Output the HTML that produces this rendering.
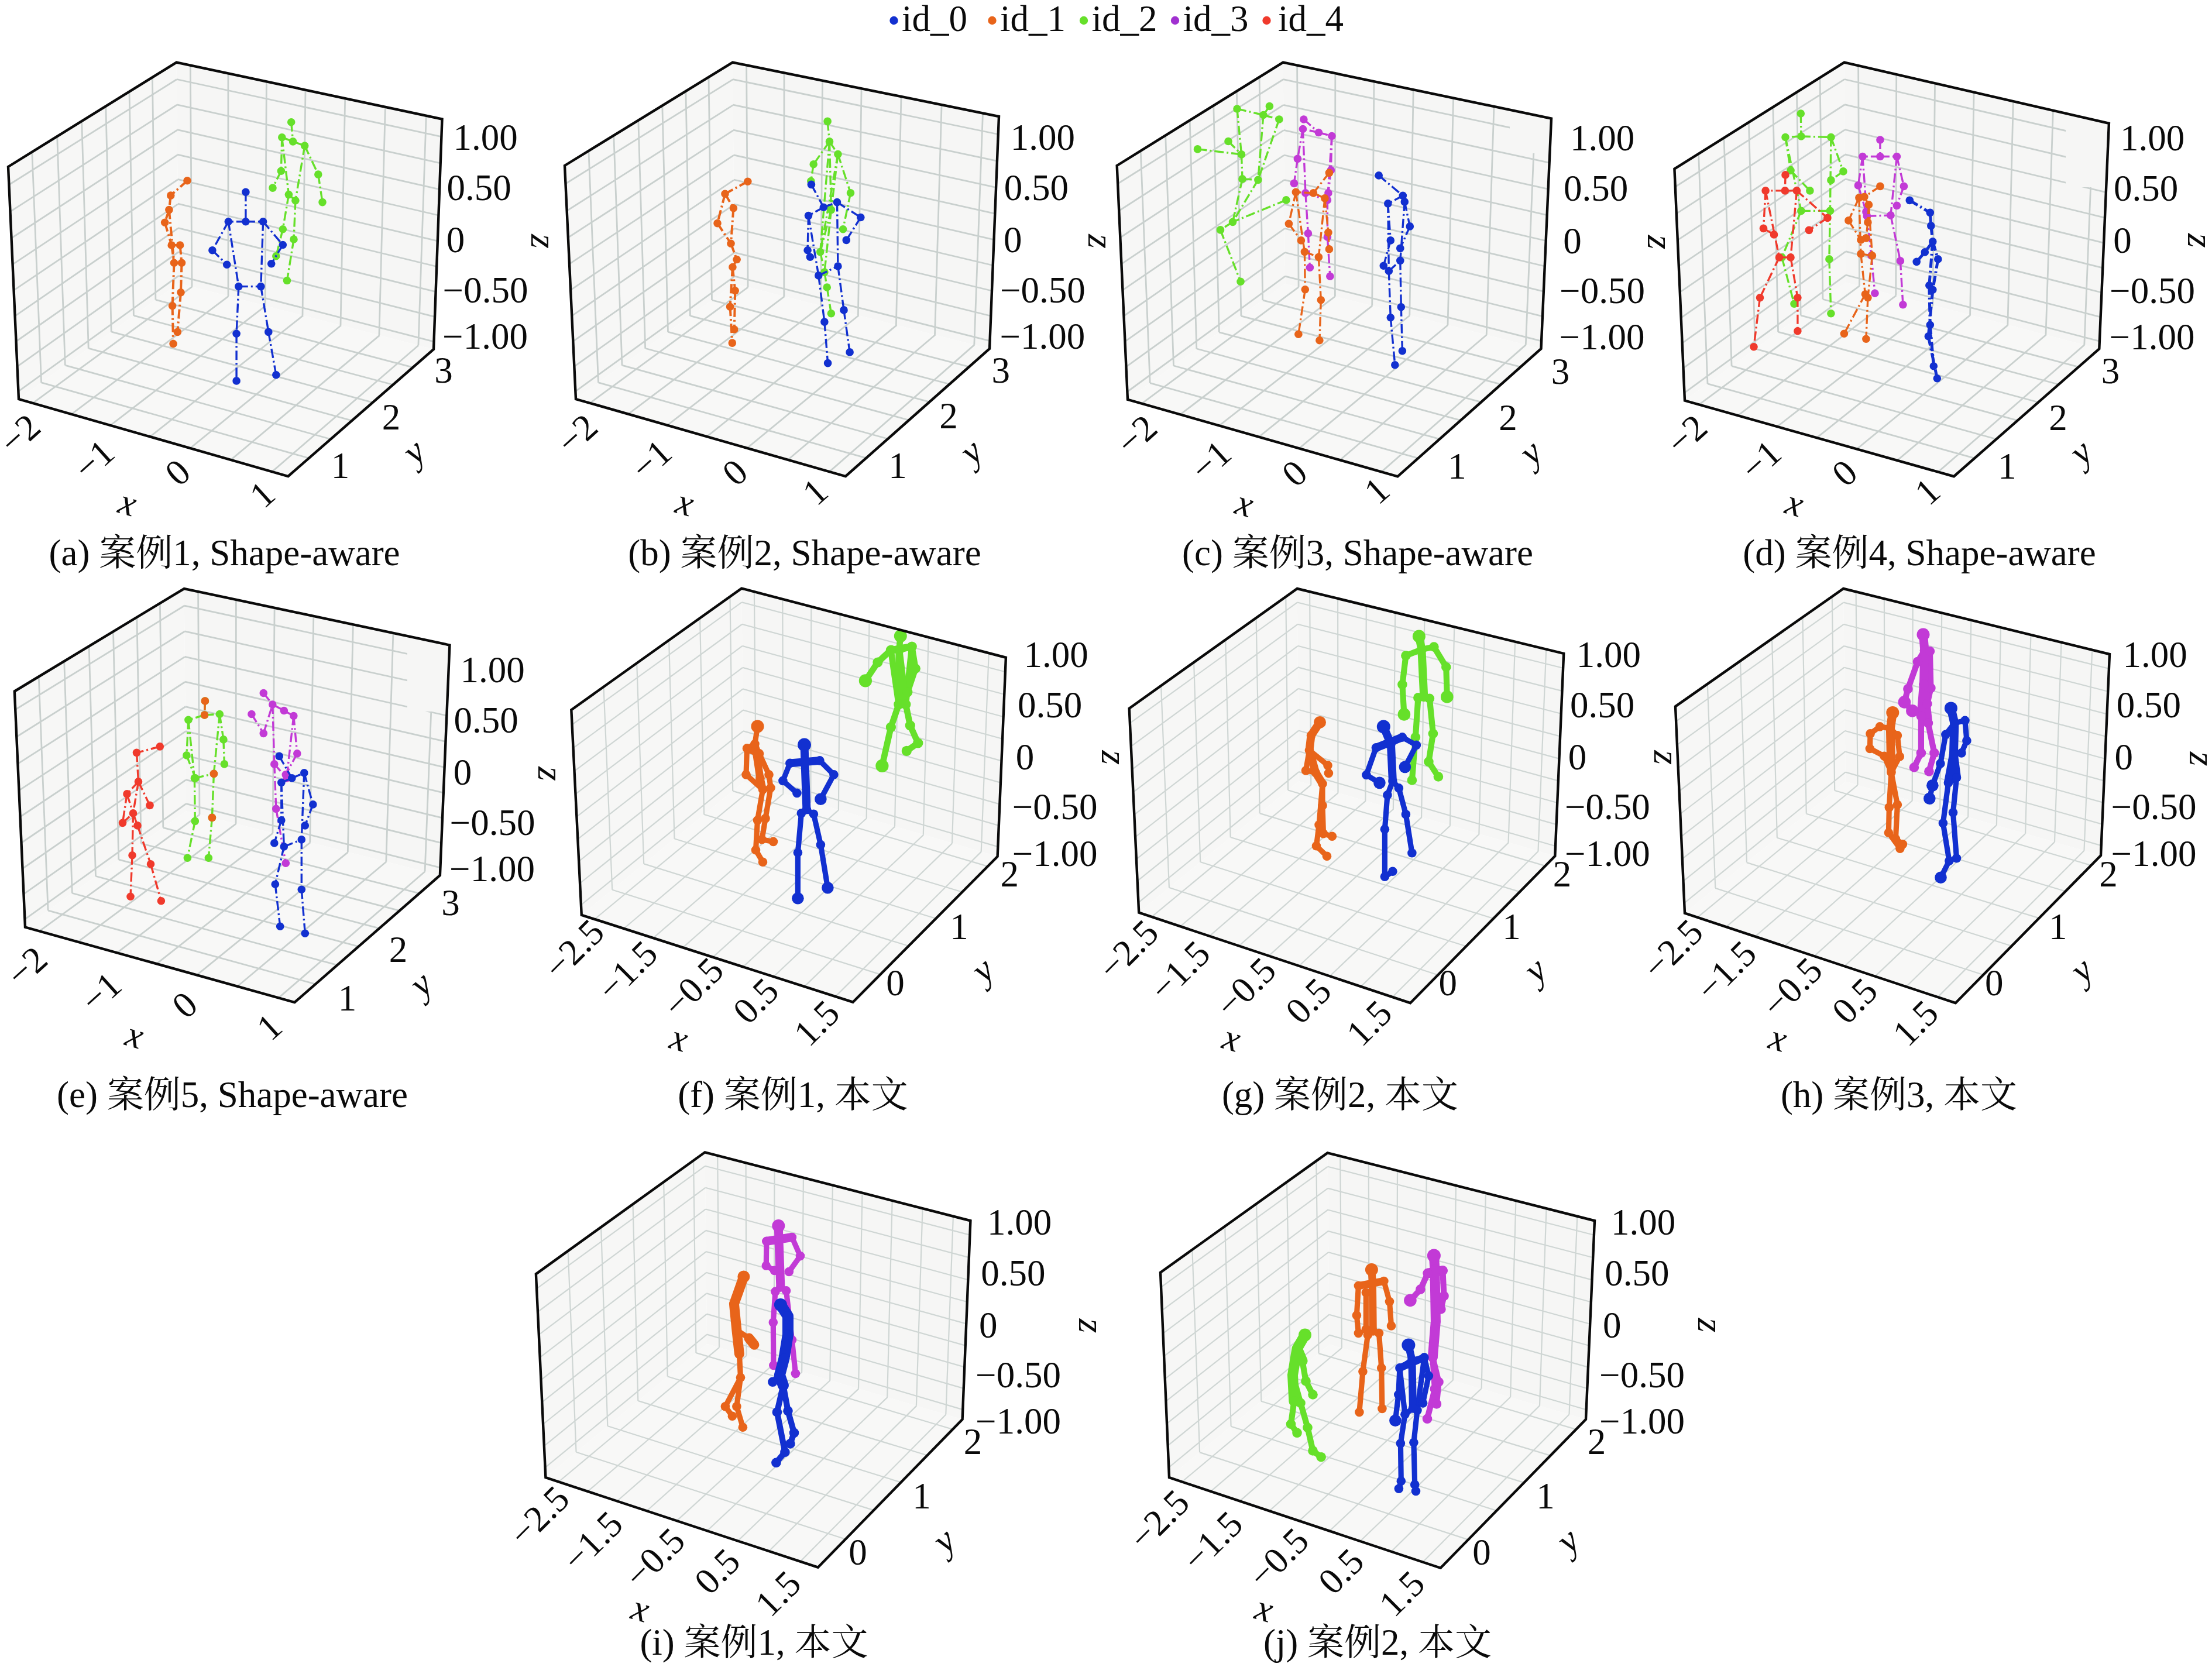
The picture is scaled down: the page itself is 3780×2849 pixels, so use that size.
<!DOCTYPE html>
<html lang="zh"><head><meta charset="utf-8"><title>figure</title>
<style>html,body{margin:0;padding:0;background:#fff}svg{display:block}text{font-family:'Liberation Serif','Noto Serif CJK SC',serif;font-size:63px;fill:#0a0a0a}</style></head>
<body>
<svg width="3780" height="2849" viewBox="0 0 3780 2849">
<rect width="3780" height="2849" fill="#fff"/>
<circle cx="1527.5" cy="35" r="7.2" fill="#1230d0"/>
<text x="1541" y="53">id_0</text>
<circle cx="1695.5" cy="35" r="7.2" fill="#e8641a"/>
<text x="1709" y="53">id_1</text>
<circle cx="1852" cy="35" r="7.2" fill="#66e02a"/>
<text x="1865.5" y="53">id_2</text>
<circle cx="2008" cy="35" r="7.2" fill="#a030d0"/>
<text x="2021.5" y="53">id_3</text>
<circle cx="2164.5" cy="35" r="7.2" fill="#f03a2c"/>
<text x="2184" y="53">id_4</text>
<g>
<polygon points="14,285 301.6,106.6 305.1,484.1 32,682" fill="#f7f7f6"/>
<polygon points="301.6,106.6 755.5,203.5 741,597 305.1,484.1" fill="#f6f6f5"/>
<polygon points="32,682 305.1,484.1 741,597 492.4,814" fill="#f8f8f7"/>
<path d="M70.6 654L54.8 259.7M70.8 653.9L527.9 783M111.3 624.5L97.7 233.1M111.7 624.3L565.1 750.5M151.2 595.7L139.7 207M151.6 595.3L601.5 718.8M190.2 567.4L180.8 181.5M190.6 567.1L637 687.8M228.4 539.7L221 156.6M228.8 539.4L671.7 657.5M265.9 512.5L260.4 132.2M266.1 512.4L705.6 627.9M328 490L325.3 111.7M56.2 688.9L328.1 490.1M390 506.1L389.9 125.4M122.1 707.8L390.6 506.2M453.1 522.4L455.4 139.4M188.8 726.9L453.9 522.6M517 539L522 153.7M256.4 746.3L518 539.2M582 555.8L589.7 168.1M325 766L582.9 556M647.9 572.9L658.4 182.8M394.5 785.9L648.6 573.1M714.9 590.2L728.3 197.7M465 806.1L715.1 590.3M31.4 668.8L305 471.5M305 471.4L741.5 583.8M29.5 626.3L304.6 431M304.6 430.6L743 541.4M27.5 583.5L304.2 390.1M304.2 389.6L744.6 498.6M25.6 540.1L303.9 348.8M303.9 348.1L746.2 455.5M23.6 496.2L303.5 307.1M303.5 306.3L747.8 411.9M21.6 451.9L303.1 264.9M303.1 264.2L749.4 368M19.5 407L302.7 222.3M302.7 221.6L751.1 323.6M17.5 361.6L302.3 179.2M302.3 178.8L752.7 278.8M15.4 315.7L301.9 135.7M301.9 135.5L754.4 233.7" stroke="#c9d0ce" stroke-width="2.8" fill="none"/>
<g stroke="#66e02a" fill="#66e02a"><path d="M497.7 208.8L500.6 241.9M500.6 241.9L481.8 234.7M500.6 241.9L520.7 249.1M481.8 234.7L480.4 292.3M480.4 292.3L466 321.1M520.7 249.1L543.8 298.1M543.8 298.1L551 345.6M481.8 234.7L493.4 332.6M520.7 249.1L504.9 342.7M493.4 332.6L504.9 342.7M493.4 332.6L483.3 391.7M483.3 391.7L471.8 437.8M504.9 342.7L502 409M502 409L490.5 479.5" stroke-width="3.4" stroke-dasharray="16 5 3 5" fill="none"/>
<circle cx="497.7" cy="208.8" r="6.8" stroke="none"/><circle cx="500.6" cy="241.9" r="6.8" stroke="none"/><circle cx="481.8" cy="234.7" r="6.8" stroke="none"/><circle cx="520.7" cy="249.1" r="6.8" stroke="none"/><circle cx="480.4" cy="292.3" r="6.8" stroke="none"/><circle cx="543.8" cy="298.1" r="6.8" stroke="none"/><circle cx="466" cy="321.1" r="6.8" stroke="none"/><circle cx="551" cy="345.6" r="6.8" stroke="none"/><circle cx="493.4" cy="332.6" r="6.8" stroke="none"/><circle cx="504.9" cy="342.7" r="6.8" stroke="none"/><circle cx="483.3" cy="391.7" r="6.8" stroke="none"/><circle cx="502" cy="409" r="6.8" stroke="none"/><circle cx="471.8" cy="437.8" r="6.8" stroke="none"/><circle cx="490.5" cy="479.5" r="6.8" stroke="none"/>
</g>
<g stroke="#e8641a" fill="#e8641a"><path d="M320 308.7L291.8 334.1M291.8 334.1L288.9 358.6M288.9 358.6L281.7 380.2M281.7 380.2L293.2 419M293.2 419L307.6 419M288.9 358.6L297.5 449.3M293.2 419L297.5 449.3M297.5 449.3L310.5 449.3M307.6 419L310.5 449.3M310.5 449.3L309 499.7M297.5 449.3L294.6 522.7M309 499.7L303.3 567.4M294.6 522.7L296.1 587.5" stroke-width="4" stroke-dasharray="16 5 3 5" fill="none"/>
<circle cx="320" cy="308.7" r="6.8" stroke="none"/><circle cx="291.8" cy="334.1" r="6.8" stroke="none"/><circle cx="288.9" cy="358.6" r="6.8" stroke="none"/><circle cx="281.7" cy="380.2" r="6.8" stroke="none"/><circle cx="293.2" cy="419" r="6.8" stroke="none"/><circle cx="307.6" cy="419" r="6.8" stroke="none"/><circle cx="297.5" cy="449.3" r="6.8" stroke="none"/><circle cx="310.5" cy="449.3" r="6.8" stroke="none"/><circle cx="309" cy="499.7" r="6.8" stroke="none"/><circle cx="294.6" cy="522.7" r="6.8" stroke="none"/><circle cx="303.3" cy="567.4" r="6.8" stroke="none"/><circle cx="296.1" cy="587.5" r="6.8" stroke="none"/>
</g>
<g stroke="#1230d0" fill="#1230d0"><path d="M419.9 328.3L419.9 378.7M419.9 378.7L390.3 378.7M419.9 378.7L449.6 378.7M390.3 378.7L362.9 427.7M362.9 427.7L387.7 452.2M449.6 378.7L483.3 418.5M483.3 418.5L463.7 450.7M390.3 378.7L407.8 489.6M449.6 378.7L445.8 489.6M407.8 489.6L445.8 489.6M407.8 489.6L404.1 570.2M404.1 570.2L404.1 650.9M445.8 489.6L458.8 567.4M458.8 567.4L471.8 640.8" stroke-width="3.4" stroke-dasharray="16 5 3 5" fill="none"/>
<circle cx="419.9" cy="328.3" r="6.8" stroke="none"/><circle cx="419.9" cy="378.7" r="6.8" stroke="none"/><circle cx="390.3" cy="378.7" r="6.8" stroke="none"/><circle cx="449.6" cy="378.7" r="6.8" stroke="none"/><circle cx="362.9" cy="427.7" r="6.8" stroke="none"/><circle cx="483.3" cy="418.5" r="6.8" stroke="none"/><circle cx="387.7" cy="452.2" r="6.8" stroke="none"/><circle cx="463.7" cy="450.7" r="6.8" stroke="none"/><circle cx="407.8" cy="489.6" r="6.8" stroke="none"/><circle cx="445.8" cy="489.6" r="6.8" stroke="none"/><circle cx="404.1" cy="570.2" r="6.8" stroke="none"/><circle cx="458.8" cy="567.4" r="6.8" stroke="none"/><circle cx="404.1" cy="650.9" r="6.8" stroke="none"/><circle cx="471.8" cy="640.8" r="6.8" stroke="none"/>
</g>
<polygon points="14,285 301.6,106.6 755.5,203.5 741,597 492.4,814 32,682" fill="none" stroke="#0a0a0a" stroke-width="4.4" stroke-linejoin="miter"/>
<text transform="translate(829.6 234.5) rotate(0)" y="21.1" text-anchor="middle">1.00</text>
<text transform="translate(818.5 320.5) rotate(0)" y="21.1" text-anchor="middle">0.50</text>
<text transform="translate(778.4 410) rotate(0)" y="21.1" text-anchor="middle">0</text>
<text transform="translate(829.5 495.6) rotate(0)" y="21.1" text-anchor="middle">−0.50</text>
<text transform="translate(829 574.8) rotate(0)" y="21.1" text-anchor="middle">−1.00</text>
<text transform="translate(758 633) rotate(0)" y="21.1" text-anchor="middle">3</text>
<text transform="translate(668.6 712.5) rotate(0)" y="21.1" text-anchor="middle">2</text>
<text transform="translate(581.6 795.6) rotate(0)" y="21.1" text-anchor="middle">1</text>
<text transform="translate(33.8 742) rotate(-42)" y="21.1" text-anchor="middle">−2</text>
<text transform="translate(160.5 786) rotate(-42)" y="21.1" text-anchor="middle">−1</text>
<text transform="translate(303.5 807.2) rotate(-42)" y="21.1" text-anchor="middle">0</text>
<text transform="translate(448 845) rotate(-42)" y="21.1" text-anchor="middle">1</text>
<text transform="translate(216.5 865.8) rotate(16)" y="13.9" text-anchor="middle" font-style="italic">x</text>
<text transform="translate(715.5 781.5) rotate(-41)" y="7.6" text-anchor="middle" font-style="italic">y</text>
<text transform="translate(921.8 412.5) rotate(90)" y="13.9" text-anchor="middle" font-style="italic">z</text>
<text x="383.6" y="966" text-anchor="middle">(a) 案例1, Shape-aware</text>
</g>
<g>
<polygon points="965,283 1252,106.6 1255.4,484.9 984,682" fill="#f7f7f6"/>
<polygon points="1252,106.6 1707,199 1691,596 1255.4,484.9" fill="#f6f6f5"/>
<polygon points="984,682 1255.4,484.9 1691,596 1445,814" fill="#f8f8f7"/>
<path d="M1022.5 654L1005.9 257.9M1022.8 653.9L1480.3 782.8M1063 624.6L1048.8 231.5M1063.5 624.3L1517.2 750M1102.7 595.8L1090.8 205.7M1103.2 595.5L1553.3 718M1141.5 567.7L1131.8 180.5M1141.9 567.3L1588.4 686.9M1179.4 540.1L1171.9 155.8M1179.8 539.8L1622.7 656.5M1216.5 513.1L1211 131.8M1216.8 513L1656.1 626.9M1278.1 490.7L1275.6 111.4M1008.1 688.9L1278.3 490.8M1339.8 506.4L1340 124.5M1073.7 707.7L1340.5 506.6M1402.6 522.5L1405.5 137.8M1140.3 726.8L1403.5 522.7M1466.4 538.7L1472.1 151.3M1208 746.1L1467.5 539M1531.4 555.3L1540 165.1M1276.7 765.8L1532.4 555.6M1597.5 572.2L1609.1 179.1M1346.5 785.8L1598.2 572.3M1664.8 589.3L1679.5 193.4M1417.4 806.1L1665 589.4M983.4 668.8L1255.3 472.3M1255.3 472.2L1691.5 582.7M981.3 626.3L1254.9 431.9M1254.9 431.5L1693.3 540M979.3 583.3L1254.6 391M1254.6 390.4L1695 497M977.2 539.8L1254.2 349.7M1254.2 348.9L1696.7 453.5M975.1 495.7L1253.8 307.9M1253.8 307L1698.5 409.6M973 451.1L1253.4 265.6M1253.4 264.8L1700.3 365.2M970.9 406L1253 222.9M1253 222.1L1702.1 320.4M968.7 360.3L1252.7 179.6M1252.7 179.1L1703.9 275.2M966.5 314L1252.3 135.9M1252.3 135.6L1705.8 229.5" stroke="#c9d0ce" stroke-width="2.8" fill="none"/>
<g stroke="#e8641a" fill="#e8641a"><path d="M1277.8 310.2L1239 331.2M1239 331.2L1253.4 355.7M1239 331.2L1226 381.6M1226 381.6L1249 416.2M1253.4 355.7L1249 416.2M1249 416.2L1259.1 443.5M1259.1 443.5L1251.9 456.5M1251.9 456.5L1256.2 496.8M1251.9 456.5L1247.6 524.2M1256.2 496.8L1254.8 563M1247.6 524.2L1251.3 586.1" stroke-width="4" stroke-dasharray="16 5 3 5" fill="none"/>
<circle cx="1277.8" cy="310.2" r="6.8" stroke="none"/><circle cx="1239" cy="331.2" r="6.8" stroke="none"/><circle cx="1253.4" cy="355.7" r="6.8" stroke="none"/><circle cx="1226" cy="381.6" r="6.8" stroke="none"/><circle cx="1249" cy="416.2" r="6.8" stroke="none"/><circle cx="1259.1" cy="443.5" r="6.8" stroke="none"/><circle cx="1251.9" cy="456.5" r="6.8" stroke="none"/><circle cx="1256.2" cy="496.8" r="6.8" stroke="none"/><circle cx="1247.6" cy="524.2" r="6.8" stroke="none"/><circle cx="1254.8" cy="563" r="6.8" stroke="none"/><circle cx="1251.3" cy="586.1" r="6.8" stroke="none"/>
</g>
<g stroke="#66e02a" fill="#66e02a"><path d="M1414.1 207.4L1417.5 241.9M1417.5 241.9L1390.2 280.8M1417.5 241.9L1431.9 263.5M1390.2 280.8L1385.8 309.6M1431.9 263.5L1453.5 329.8M1453.5 329.8L1440.6 391.7M1417.5 241.9L1420.4 358.6M1417.5 241.9L1401.7 430.6M1431.9 263.5L1401.7 430.6M1420.4 358.6L1401.7 430.6M1420.4 358.6L1408.9 465.1M1401.7 430.6L1408.9 465.1M1408.9 465.1L1413.2 491M1413.2 491L1420.4 535.7M1431.9 263.5L1420.4 358.6" stroke-width="3.4" stroke-dasharray="16 5 3 5" fill="none"/>
<circle cx="1414.1" cy="207.4" r="6.8" stroke="none"/><circle cx="1417.5" cy="241.9" r="6.8" stroke="none"/><circle cx="1390.2" cy="280.8" r="6.8" stroke="none"/><circle cx="1431.9" cy="263.5" r="6.8" stroke="none"/><circle cx="1385.8" cy="309.6" r="6.8" stroke="none"/><circle cx="1453.5" cy="329.8" r="6.8" stroke="none"/><circle cx="1440.6" cy="391.7" r="6.8" stroke="none"/><circle cx="1420.4" cy="358.6" r="6.8" stroke="none"/><circle cx="1401.7" cy="430.6" r="6.8" stroke="none"/><circle cx="1413.2" cy="491" r="6.8" stroke="none"/><circle cx="1420.4" cy="535.7" r="6.8" stroke="none"/><circle cx="1408.9" cy="465.1" r="6.8" stroke="none"/>
</g>
<g stroke="#1230d0" fill="#1230d0"><path d="M1386.4 315.4L1407.4 354.2M1407.4 354.2L1381.5 368.6M1407.4 354.2L1430.5 345.6M1381.5 368.6L1380.1 427.7M1380.1 427.7L1384.4 439.2M1430.5 345.6L1470.8 371.5M1470.8 371.5L1446.3 410.4M1381.5 368.6L1398.8 470.9M1430.5 345.6L1431.9 455M1398.8 470.9L1431.9 455M1398.8 470.9L1408.9 550.1M1408.9 550.1L1414.6 620.6M1431.9 455L1442 529.9M1442 529.9L1452.1 601.9" stroke-width="3.4" stroke-dasharray="16 5 3 5" fill="none"/>
<circle cx="1386.4" cy="315.4" r="6.8" stroke="none"/><circle cx="1407.4" cy="354.2" r="6.8" stroke="none"/><circle cx="1381.5" cy="368.6" r="6.8" stroke="none"/><circle cx="1430.5" cy="345.6" r="6.8" stroke="none"/><circle cx="1380.1" cy="427.7" r="6.8" stroke="none"/><circle cx="1470.8" cy="371.5" r="6.8" stroke="none"/><circle cx="1384.4" cy="439.2" r="6.8" stroke="none"/><circle cx="1446.3" cy="410.4" r="6.8" stroke="none"/><circle cx="1398.8" cy="470.9" r="6.8" stroke="none"/><circle cx="1431.9" cy="455" r="6.8" stroke="none"/><circle cx="1408.9" cy="550.1" r="6.8" stroke="none"/><circle cx="1442" cy="529.9" r="6.8" stroke="none"/><circle cx="1414.6" cy="620.6" r="6.8" stroke="none"/><circle cx="1452.1" cy="601.9" r="6.8" stroke="none"/>
</g>
<polygon points="965,283 1252,106.6 1707,199 1691,596 1445,814 984,682" fill="none" stroke="#0a0a0a" stroke-width="4.4" stroke-linejoin="miter"/>
<text transform="translate(1781.9 234.5) rotate(0)" y="21.1" text-anchor="middle">1.00</text>
<text transform="translate(1770.8 320.5) rotate(0)" y="21.1" text-anchor="middle">0.50</text>
<text transform="translate(1730.7 410) rotate(0)" y="21.1" text-anchor="middle">0</text>
<text transform="translate(1781.8 495.6) rotate(0)" y="21.1" text-anchor="middle">−0.50</text>
<text transform="translate(1781.3 574.8) rotate(0)" y="21.1" text-anchor="middle">−1.00</text>
<text transform="translate(1710.3 633) rotate(0)" y="21.1" text-anchor="middle">3</text>
<text transform="translate(1620.9 710.5) rotate(0)" y="21.1" text-anchor="middle">2</text>
<text transform="translate(1533.9 795.6) rotate(0)" y="21.1" text-anchor="middle">1</text>
<text transform="translate(986.1 742) rotate(-42)" y="21.1" text-anchor="middle">−2</text>
<text transform="translate(1112.8 786) rotate(-42)" y="21.1" text-anchor="middle">−1</text>
<text transform="translate(1255.8 807.2) rotate(-42)" y="21.1" text-anchor="middle">0</text>
<text transform="translate(1392.8 840.4) rotate(-42)" y="21.1" text-anchor="middle">1</text>
<text transform="translate(1168.8 865.8) rotate(16)" y="13.9" text-anchor="middle" font-style="italic">x</text>
<text transform="translate(1667.8 781.5) rotate(-41)" y="7.6" text-anchor="middle" font-style="italic">y</text>
<text transform="translate(1874.1 412.5) rotate(90)" y="13.9" text-anchor="middle" font-style="italic">z</text>
<text x="1375" y="966" text-anchor="middle">(b) 案例2, Shape-aware</text>
</g>
<g>
<polygon points="1908.7,283 2192.6,106.6 2196.2,484.8 1927,682.8" fill="#f7f7f6"/>
<polygon points="2192.6,106.6 2651,202.5 2633.5,596 2196.2,484.8" fill="#f6f6f5"/>
<polygon points="1927,682.8 2196.2,484.8 2633.5,596 2388.4,814.3" fill="#f8f8f7"/>
<path d="M1965.2 654.7L1949.2 257.9M1965.3 654.6L2423.4 783.1M2005.5 625.1L1991.7 231.4M2005.6 625L2460.2 750.4M2044.8 596.2L2033.2 205.6M2045 596L2496 718.4M2083.3 567.9L2073.8 180.4M2083.4 567.8L2531.1 687.2M2120.9 540.2L2113.4 155.8M2121 540.1L2565.2 656.8M2157.7 513.1L2152.1 131.7M2157.8 513.1L2598.6 627.1M2219.1 490.6L2216.6 111.6M1951.2 689.7L2219.2 490.6M2281.4 506.5L2281.8 125.3M2016.9 708.4L2281.6 506.5M2344.7 522.5L2348 139.1M2083.5 727.4L2345 522.6M2408.8 538.9L2415.2 153.2M2151.3 746.7L2409.2 539M2474 555.4L2483.6 167.5M2220 766.3L2474.3 555.5M2540.2 572.3L2553 182M2289.9 786.2L2540.4 572.3M2607.3 589.4L2623.5 196.8M2360.8 806.4L2607.4 589.4M1926.4 669.5L2196.1 472.2M2196.1 472.1L2634.1 582.8M1924.4 626.8L2195.7 431.7M2195.7 431.5L2636 540.7M1922.5 583.7L2195.3 390.7M2195.3 390.5L2637.9 498.1M1920.5 540L2194.9 349.4M2194.9 349.1L2639.8 455M1918.4 495.9L2194.5 307.6M2194.5 307.3L2641.7 411.5M1916.4 451.2L2194.1 265.3M2194.1 265L2643.7 367.6M1914.3 406L2193.7 222.6M2193.7 222.4L2645.6 323.2M1912.2 360.2L2193.3 179.4M2193.3 179.3L2647.6 278.2M1910.1 314L2192.9 135.8M2192.9 135.7L2649.7 232.8" stroke="#c9d0ce" stroke-width="2.8" fill="none"/>
<polygon points="2580,187.6 2651,202.5 2648.4,262 2580,262" fill="#f6f6f5"/>
<g stroke="#66e02a" fill="#66e02a"><path d="M2114 186L2158.9 196.5M2169.4 181.5L2158.9 196.5M2158.9 196.5L2185.9 204M2114 186L2121.5 263.9M2046.5 254.9L2121.5 263.9M2099 241.5L2121.5 263.9M2158.9 196.5L2149.9 307.4M2185.9 204L2149.9 307.4M2121.5 263.9L2123 305.9M2123 305.9L2149.9 307.4M2123 305.9L2106.5 379.4M2149.9 307.4L2106.5 379.4M2197.9 341.9L2106.5 379.4M2106.5 379.4L2085.5 392.9M2085.5 392.9L2120 481.3" stroke-width="3.4" stroke-dasharray="16 5 3 5" fill="none"/>
<circle cx="2114" cy="186" r="6.8" stroke="none"/><circle cx="2169.4" cy="181.5" r="6.8" stroke="none"/><circle cx="2158.9" cy="196.5" r="6.8" stroke="none"/><circle cx="2185.9" cy="204" r="6.8" stroke="none"/><circle cx="2046.5" cy="254.9" r="6.8" stroke="none"/><circle cx="2099" cy="241.5" r="6.8" stroke="none"/><circle cx="2121.5" cy="263.9" r="6.8" stroke="none"/><circle cx="2123" cy="305.9" r="6.8" stroke="none"/><circle cx="2149.9" cy="307.4" r="6.8" stroke="none"/><circle cx="2197.9" cy="341.9" r="6.8" stroke="none"/><circle cx="2106.5" cy="379.4" r="6.8" stroke="none"/><circle cx="2085.5" cy="392.9" r="6.8" stroke="none"/><circle cx="2120" cy="481.3" r="6.8" stroke="none"/>
</g>
<g stroke="#c23ad6" fill="#c23ad6"><path d="M2227.9 204L2253.4 226.5M2253.4 226.5L2226.4 220.5M2253.4 226.5L2275.9 232.5M2226.4 220.5L2217.4 271.4M2217.4 271.4L2211.4 313.4M2275.9 232.5L2274.4 290.9M2274.4 290.9L2269.9 329.9M2226.4 220.5L2230.9 329.9M2275.9 232.5L2268.4 341.9M2230.9 329.9L2268.4 341.9M2230.9 329.9L2235.4 398.9M2235.4 398.9L2238.4 457.3M2268.4 341.9L2268.4 404.9M2268.4 404.9L2272.9 472.3" stroke-width="3.4" stroke-dasharray="16 5 3 5" fill="none"/>
<circle cx="2227.9" cy="204" r="6.8" stroke="none"/><circle cx="2253.4" cy="226.5" r="6.8" stroke="none"/><circle cx="2226.4" cy="220.5" r="6.8" stroke="none"/><circle cx="2275.9" cy="232.5" r="6.8" stroke="none"/><circle cx="2217.4" cy="271.4" r="6.8" stroke="none"/><circle cx="2274.4" cy="290.9" r="6.8" stroke="none"/><circle cx="2211.4" cy="313.4" r="6.8" stroke="none"/><circle cx="2269.9" cy="329.9" r="6.8" stroke="none"/><circle cx="2230.9" cy="329.9" r="6.8" stroke="none"/><circle cx="2268.4" cy="341.9" r="6.8" stroke="none"/><circle cx="2235.4" cy="398.9" r="6.8" stroke="none"/><circle cx="2268.4" cy="404.9" r="6.8" stroke="none"/><circle cx="2238.4" cy="457.3" r="6.8" stroke="none"/><circle cx="2272.9" cy="472.3" r="6.8" stroke="none"/>
</g>
<g stroke="#e8641a" fill="#e8641a"><path d="M2271.4 295.4L2244.4 329.9M2244.4 329.9L2214.4 328.4M2244.4 329.9L2263.9 338.9M2214.4 328.4L2202.4 382.4M2202.4 382.4L2223.4 410.9M2263.9 338.9L2269.9 397.4M2269.9 397.4L2271.4 425.9M2214.4 328.4L2229.4 430.4M2263.9 338.9L2253.4 439.4M2229.4 430.4L2253.4 439.4M2229.4 430.4L2230.3 494.8M2230.3 494.8L2218.9 571.3M2253.4 439.4L2257.3 512.8M2257.3 512.8L2254.9 581.8" stroke-width="3.4" stroke-dasharray="16 5 3 5" fill="none"/>
<circle cx="2271.4" cy="295.4" r="6.8" stroke="none"/><circle cx="2244.4" cy="329.9" r="6.8" stroke="none"/><circle cx="2214.4" cy="328.4" r="6.8" stroke="none"/><circle cx="2263.9" cy="338.9" r="6.8" stroke="none"/><circle cx="2202.4" cy="382.4" r="6.8" stroke="none"/><circle cx="2269.9" cy="397.4" r="6.8" stroke="none"/><circle cx="2223.4" cy="410.9" r="6.8" stroke="none"/><circle cx="2271.4" cy="425.9" r="6.8" stroke="none"/><circle cx="2229.4" cy="430.4" r="6.8" stroke="none"/><circle cx="2253.4" cy="439.4" r="6.8" stroke="none"/><circle cx="2230.3" cy="494.8" r="6.8" stroke="none"/><circle cx="2257.3" cy="512.8" r="6.8" stroke="none"/><circle cx="2218.9" cy="571.3" r="6.8" stroke="none"/><circle cx="2254.9" cy="581.8" r="6.8" stroke="none"/>
</g>
<g stroke="#1230d0" fill="#1230d0"><path d="M2356.2 299.9L2397.3 334.4M2397.3 334.4L2371.8 347.9M2397.3 334.4L2400.3 344.9M2371.8 347.9L2376.3 410.9M2376.3 410.9L2364.3 454.3M2400.3 344.9L2409.3 386.9M2409.3 386.9L2392.8 424.4M2371.8 347.9L2373.3 463.3M2400.3 344.9L2392.8 445.4M2373.3 463.3L2392.8 445.4M2373.3 463.3L2376.3 542.8M2376.3 542.8L2383.8 623.8M2392.8 445.4L2394.3 524.8M2394.3 524.8L2396.4 599.8" stroke-width="3.4" stroke-dasharray="16 5 3 5" fill="none"/>
<circle cx="2356.2" cy="299.9" r="6.8" stroke="none"/><circle cx="2397.3" cy="334.4" r="6.8" stroke="none"/><circle cx="2371.8" cy="347.9" r="6.8" stroke="none"/><circle cx="2400.3" cy="344.9" r="6.8" stroke="none"/><circle cx="2376.3" cy="410.9" r="6.8" stroke="none"/><circle cx="2409.3" cy="386.9" r="6.8" stroke="none"/><circle cx="2364.3" cy="454.3" r="6.8" stroke="none"/><circle cx="2392.8" cy="424.4" r="6.8" stroke="none"/><circle cx="2373.3" cy="463.3" r="6.8" stroke="none"/><circle cx="2392.8" cy="445.4" r="6.8" stroke="none"/><circle cx="2376.3" cy="542.8" r="6.8" stroke="none"/><circle cx="2394.3" cy="524.8" r="6.8" stroke="none"/><circle cx="2383.8" cy="623.8" r="6.8" stroke="none"/><circle cx="2396.4" cy="599.8" r="6.8" stroke="none"/>
</g>
<polygon points="1908.7,283 2192.6,106.6 2651,202.5 2633.5,596 2388.4,814.3 1927,682.8" fill="none" stroke="#0a0a0a" stroke-width="4.4" stroke-linejoin="miter"/>
<text transform="translate(2738.1 236) rotate(0)" y="21.1" text-anchor="middle">1.00</text>
<text transform="translate(2727 322) rotate(0)" y="21.1" text-anchor="middle">0.50</text>
<text transform="translate(2686.9 411.5) rotate(0)" y="21.1" text-anchor="middle">0</text>
<text transform="translate(2738 497.1) rotate(0)" y="21.1" text-anchor="middle">−0.50</text>
<text transform="translate(2737.5 576.3) rotate(0)" y="21.1" text-anchor="middle">−1.00</text>
<text transform="translate(2666.5 634.5) rotate(0)" y="21.1" text-anchor="middle">3</text>
<text transform="translate(2577.1 714) rotate(0)" y="21.1" text-anchor="middle">2</text>
<text transform="translate(2490.1 797.1) rotate(0)" y="21.1" text-anchor="middle">1</text>
<text transform="translate(1942.3 743.5) rotate(-42)" y="21.1" text-anchor="middle">−2</text>
<text transform="translate(2069 787.5) rotate(-42)" y="21.1" text-anchor="middle">−1</text>
<text transform="translate(2212 808.7) rotate(-42)" y="21.1" text-anchor="middle">0</text>
<text transform="translate(2352.5 838.5) rotate(-42)" y="21.1" text-anchor="middle">1</text>
<text transform="translate(2125 867.3) rotate(16)" y="13.9" text-anchor="middle" font-style="italic">x</text>
<text transform="translate(2624 783) rotate(-41)" y="7.6" text-anchor="middle" font-style="italic">y</text>
<text transform="translate(2830.3 414) rotate(90)" y="13.9" text-anchor="middle" font-style="italic">z</text>
<text x="2320" y="966" text-anchor="middle">(c) 案例3, Shape-aware</text>
</g>
<g>
<polygon points="2861.4,288.7 3151.6,106.6 3154.4,482.7 2879,684.5" fill="#f7f7f6"/>
<polygon points="3151.6,106.6 3603.9,210.8 3587.3,596.1 3154.4,482.7" fill="#f6f6f5"/>
<polygon points="2879,684.5 3154.4,482.7 3587.3,596.1 3338.9,814.2" fill="#f8f8f7"/>
<path d="M2918 655.9L2902.6 262.8M2918.1 655.8L3374.3 783.1M2959.1 625.8L2946 235.6M2959.3 625.7L3411.5 750.5M2999.3 596.4L2988.4 209M2999.6 596.2L3447.8 718.6M3038.6 567.5L3029.8 183M3038.9 567.3L3483.3 687.5M3077.2 539.3L3070.4 157.6M3077.4 539.1L3517.9 657M3114.9 511.6L3110.1 132.7M3115 511.5L3551.8 627.2M3177.5 488.7L3175.6 112.1M2903.5 691.4L3177.6 488.7M3239.8 505L3240.7 127.1M2969.9 710.1L3240.2 505.1M3302.9 521.6L3306.5 142.3M3037 729.1L3303.4 521.7M3366.6 538.3L3373.1 157.6M3104.7 748.2L3367.1 538.4M3430.9 555.1L3440.3 173.1M3173.1 767.4L3431.5 555.3M3496 572.2L3508.4 188.8M3242.1 786.9L3496.4 572.3M3561.8 589.4L3577.2 204.6M3311.9 806.6L3561.9 589.4M2878.4 671.3L3154.3 470.1M3154.3 470L3587.9 583.2M2876.5 629.1L3154 429.8M3154 429.6L3589.6 541.8M2874.6 586.3L3153.7 389.1M3153.7 388.8L3591.4 500M2872.7 543.1L3153.4 348M3153.4 347.5L3593.3 457.8M2870.8 499.4L3153.1 306.4M3153.1 305.9L3595.1 415.2M2868.8 455.1L3152.8 264.4M3152.8 263.9L3596.9 372.1M2866.8 410.4L3152.5 221.9M3152.5 221.5L3598.8 328.7M2864.8 365.1L3152.1 179M3152.1 178.7L3600.7 284.8M2862.8 319.3L3151.8 135.6M3151.8 135.5L3602.6 240.4" stroke="#c9d0ce" stroke-width="2.8" fill="none"/>
<polygon points="3530,193.8 3603.9,210.8 3599.2,320 3530,320" fill="#f6f6f5"/>
<g stroke="#66e02a" fill="#66e02a"><path d="M3077.3 194L3077.9 233M3077.9 233L3051 234.5M3077.9 233L3128.9 234.5M3051 234.5L3060 291.4M3060 291.4L3092.9 325.9M3128.9 234.5L3149.9 292.9M3149.9 292.9L3128.9 307.9M3051 234.5L3077.9 360.4M3128.9 234.5L3127.4 360.4M3077.9 360.4L3127.4 360.4M3077.9 360.4L3045 439.9M3045 439.9L3066 519.3M3127.4 360.4L3125.9 442.9M3125.9 442.9L3128.9 535.8" stroke-width="3.4" stroke-dasharray="16 5 3 5" fill="none"/>
<circle cx="3077.3" cy="194" r="6.8" stroke="none"/><circle cx="3077.9" cy="233" r="6.8" stroke="none"/><circle cx="3051" cy="234.5" r="6.8" stroke="none"/><circle cx="3128.9" cy="234.5" r="6.8" stroke="none"/><circle cx="3060" cy="291.4" r="6.8" stroke="none"/><circle cx="3149.9" cy="292.9" r="6.8" stroke="none"/><circle cx="3092.9" cy="325.9" r="6.8" stroke="none"/><circle cx="3128.9" cy="307.9" r="6.8" stroke="none"/><circle cx="3077.9" cy="360.4" r="6.8" stroke="none"/><circle cx="3127.4" cy="360.4" r="6.8" stroke="none"/><circle cx="3045" cy="439.9" r="6.8" stroke="none"/><circle cx="3125.9" cy="442.9" r="6.8" stroke="none"/><circle cx="3066" cy="519.3" r="6.8" stroke="none"/><circle cx="3128.9" cy="535.8" r="6.8" stroke="none"/>
</g>
<g stroke="#c23ad6" fill="#c23ad6"><path d="M3212.9 239L3212.9 267.5M3212.9 267.5L3182.9 267.5M3212.9 267.5L3241.4 267.5M3182.9 267.5L3175.4 316.9M3175.4 316.9L3188.9 361.9M3241.4 267.5L3253.4 318.4M3253.4 318.4L3241.4 351.4M3182.9 267.5L3190.4 369.4M3241.4 267.5L3230.9 367.9M3190.4 369.4L3230.9 367.9M3190.4 369.4L3197.9 436.9M3197.9 436.9L3203.9 501.3M3230.9 367.9L3247.4 445.9M3247.4 445.9L3251.9 520.8" stroke-width="3.4" stroke-dasharray="16 5 3 5" fill="none"/>
<circle cx="3212.9" cy="239" r="6.8" stroke="none"/><circle cx="3212.9" cy="267.5" r="6.8" stroke="none"/><circle cx="3182.9" cy="267.5" r="6.8" stroke="none"/><circle cx="3241.4" cy="267.5" r="6.8" stroke="none"/><circle cx="3175.4" cy="316.9" r="6.8" stroke="none"/><circle cx="3253.4" cy="318.4" r="6.8" stroke="none"/><circle cx="3188.9" cy="361.9" r="6.8" stroke="none"/><circle cx="3241.4" cy="351.4" r="6.8" stroke="none"/><circle cx="3190.4" cy="369.4" r="6.8" stroke="none"/><circle cx="3230.9" cy="367.9" r="6.8" stroke="none"/><circle cx="3197.9" cy="436.9" r="6.8" stroke="none"/><circle cx="3247.4" cy="445.9" r="6.8" stroke="none"/><circle cx="3203.9" cy="501.3" r="6.8" stroke="none"/><circle cx="3251.9" cy="520.8" r="6.8" stroke="none"/>
</g>
<g stroke="#f03a2c" fill="#f03a2c"><path d="M3051 298.9L3050.4 325.9M3050.4 325.9L3017.1 325.9M3050.4 325.9L3070.4 325.9M3017.1 325.9L3013.5 390.4M3013.5 390.4L3031.5 400.9M3070.4 325.9L3122.9 372.4M3122.9 372.4L3091.4 393.4M3017.1 325.9L3040.5 439.9M3070.4 325.9L3060 439.9M3040.5 439.9L3060 439.9M3040.5 439.9L3007.5 508.8M3007.5 508.8L2997 592.8M3060 439.9L3071.9 508.8M3071.9 508.8L3071.9 565.8" stroke-width="3.4" stroke-dasharray="16 5 3 5" fill="none"/>
<circle cx="3051" cy="298.9" r="6.8" stroke="none"/><circle cx="3050.4" cy="325.9" r="6.8" stroke="none"/><circle cx="3017.1" cy="325.9" r="6.8" stroke="none"/><circle cx="3070.4" cy="325.9" r="6.8" stroke="none"/><circle cx="3013.5" cy="390.4" r="6.8" stroke="none"/><circle cx="3122.9" cy="372.4" r="6.8" stroke="none"/><circle cx="3031.5" cy="400.9" r="6.8" stroke="none"/><circle cx="3091.4" cy="393.4" r="6.8" stroke="none"/><circle cx="3040.5" cy="439.9" r="6.8" stroke="none"/><circle cx="3060" cy="439.9" r="6.8" stroke="none"/><circle cx="3007.5" cy="508.8" r="6.8" stroke="none"/><circle cx="3071.9" cy="508.8" r="6.8" stroke="none"/><circle cx="2997" cy="592.8" r="6.8" stroke="none"/><circle cx="3071.9" cy="565.8" r="6.8" stroke="none"/>
</g>
<g stroke="#e8641a" fill="#e8641a"><path d="M3212.9 318.4L3185.9 336.4M3185.9 336.4L3176.9 337.9M3185.9 336.4L3193.4 349.9M3176.9 337.9L3158.9 376.9M3158.9 376.9L3179.9 409.9M3193.4 349.9L3191.9 379.9M3191.9 379.9L3188.9 406.9M3176.9 337.9L3179.9 433.9M3193.4 349.9L3199.4 436.9M3179.9 433.9L3199.4 436.9M3179.9 433.9L3187.4 502.8M3187.4 502.8L3151.4 570.3M3199.4 436.9L3191.9 508.8M3191.9 508.8L3188.9 579.3" stroke-width="3.4" stroke-dasharray="16 5 3 5" fill="none"/>
<circle cx="3212.9" cy="318.4" r="6.8" stroke="none"/><circle cx="3185.9" cy="336.4" r="6.8" stroke="none"/><circle cx="3176.9" cy="337.9" r="6.8" stroke="none"/><circle cx="3193.4" cy="349.9" r="6.8" stroke="none"/><circle cx="3158.9" cy="376.9" r="6.8" stroke="none"/><circle cx="3191.9" cy="379.9" r="6.8" stroke="none"/><circle cx="3179.9" cy="409.9" r="6.8" stroke="none"/><circle cx="3188.9" cy="406.9" r="6.8" stroke="none"/><circle cx="3179.9" cy="433.9" r="6.8" stroke="none"/><circle cx="3199.4" cy="436.9" r="6.8" stroke="none"/><circle cx="3187.4" cy="502.8" r="6.8" stroke="none"/><circle cx="3191.9" cy="508.8" r="6.8" stroke="none"/><circle cx="3151.4" cy="570.3" r="6.8" stroke="none"/><circle cx="3188.9" cy="579.3" r="6.8" stroke="none"/>
</g>
<g stroke="#1230d0" fill="#1230d0"><path d="M3263.3 342.4L3298.3 363.4M3298.3 363.4L3299.8 385.9M3299.8 385.9L3302.8 412.9M3302.8 412.9L3289.3 430.9M3289.3 430.9L3275.2 447.4M3302.8 412.9L3311.8 442.9M3302.8 412.9L3296.8 487.8M3311.8 442.9L3302.8 495.3M3296.8 487.8L3302.8 495.3M3296.8 487.8L3298.3 555.3M3302.8 495.3L3295.3 574.8M3298.3 555.3L3304.3 625.8M3295.3 574.8L3310.3 646.8" stroke-width="5" stroke-dasharray="16 5 3 5" fill="none"/>
<circle cx="3263.3" cy="342.4" r="6.8" stroke="none"/><circle cx="3298.3" cy="363.4" r="6.8" stroke="none"/><circle cx="3299.8" cy="385.9" r="6.8" stroke="none"/><circle cx="3302.8" cy="412.9" r="6.8" stroke="none"/><circle cx="3289.3" cy="430.9" r="6.8" stroke="none"/><circle cx="3275.2" cy="447.4" r="6.8" stroke="none"/><circle cx="3311.8" cy="442.9" r="6.8" stroke="none"/><circle cx="3296.8" cy="487.8" r="6.8" stroke="none"/><circle cx="3302.8" cy="495.3" r="6.8" stroke="none"/><circle cx="3298.3" cy="555.3" r="6.8" stroke="none"/><circle cx="3295.3" cy="574.8" r="6.8" stroke="none"/><circle cx="3304.3" cy="625.8" r="6.8" stroke="none"/><circle cx="3310.3" cy="646.8" r="6.8" stroke="none"/>
</g>
<polygon points="2861.4,288.7 3151.6,106.6 3603.9,210.8 3587.3,596.1 3338.9,814.2 2879,684.5" fill="none" stroke="#0a0a0a" stroke-width="4.4" stroke-linejoin="miter"/>
<text transform="translate(3678.1 235.5) rotate(0)" y="21.1" text-anchor="middle">1.00</text>
<text transform="translate(3667 321.5) rotate(0)" y="21.1" text-anchor="middle">0.50</text>
<text transform="translate(3626.9 411) rotate(0)" y="21.1" text-anchor="middle">0</text>
<text transform="translate(3678 496.6) rotate(0)" y="21.1" text-anchor="middle">−0.50</text>
<text transform="translate(3677.5 575.8) rotate(0)" y="21.1" text-anchor="middle">−1.00</text>
<text transform="translate(3606.5 634) rotate(0)" y="21.1" text-anchor="middle">3</text>
<text transform="translate(3517.1 713.5) rotate(0)" y="21.1" text-anchor="middle">2</text>
<text transform="translate(3430.1 796.6) rotate(0)" y="21.1" text-anchor="middle">1</text>
<text transform="translate(2882.3 743) rotate(-42)" y="21.1" text-anchor="middle">−2</text>
<text transform="translate(3009 787) rotate(-42)" y="21.1" text-anchor="middle">−1</text>
<text transform="translate(3152 808.2) rotate(-42)" y="21.1" text-anchor="middle">0</text>
<text transform="translate(3293.5 840) rotate(-42)" y="21.1" text-anchor="middle">1</text>
<text transform="translate(3065 866.8) rotate(16)" y="13.9" text-anchor="middle" font-style="italic">x</text>
<text transform="translate(3564 782.5) rotate(-41)" y="7.6" text-anchor="middle" font-style="italic">y</text>
<text transform="translate(3753 411.2) rotate(90)" y="13.9" text-anchor="middle" font-style="italic">z</text>
<text x="3280" y="966" text-anchor="middle">(d) 案例4, Shape-aware</text>
</g>
<g>
<polygon points="24.8,1181.5 314.7,1006 318.1,1386.3 43,1584.5" fill="#f7f7f6"/>
<polygon points="314.7,1006 768.4,1102.5 751.9,1496 318.1,1386.3" fill="#f6f6f5"/>
<polygon points="43,1584.5 318.1,1386.3 751.9,1496 503.5,1713" fill="#f8f8f7"/>
<path d="M82.1 1556.3L66.2 1156.4M82.3 1556.2L539.1 1681.9M123.3 1526.7L109.7 1130.1M123.5 1526.5L576.4 1649.4M163.5 1497.7L152.1 1104.5M163.7 1497.5L612.7 1617.6M202.8 1469.4L193.5 1079.4M203 1469.2L648.2 1586.6M241.2 1441.7L233.9 1054.9M241.4 1441.6L682.8 1556.3M278.8 1414.6L273.4 1031M278.9 1414.6L716.6 1526.8M341 1392.1L338.6 1011.1M67.3 1591.3L341.1 1392.1M403.1 1407.8L403.4 1024.9M133.2 1609.7L403.4 1407.9M466 1423.7L469.1 1038.8M200 1628.3L466.4 1423.8M529.7 1439.8L535.8 1053M267.7 1647.2L530.2 1439.9M594.3 1456.2L603.4 1067.4M336.3 1666.3L594.7 1456.3M659.8 1472.7L671.9 1082M405.7 1685.7L660.1 1472.8M726.1 1489.5L741.4 1096.8M476.1 1705.4L726.2 1489.5M42.4 1571.1L318 1373.6M318 1373.6L752.5 1482.8M40.5 1528L317.6 1332.9M317.6 1332.7L754.2 1440.6M38.5 1484.5L317.3 1291.7M317.3 1291.4L756 1397.9M36.5 1440.5L316.9 1250.1M316.9 1249.7L757.8 1354.8M34.5 1396L316.5 1208M316.5 1207.6L759.6 1311.3M32.5 1350.9L316.1 1165.5M316.1 1165.2L761.5 1267.4M30.4 1305.4L315.7 1122.6M315.7 1122.3L763.3 1223M28.3 1259.3L315.4 1079.2M315.4 1078.9L765.2 1178.1M26.2 1212.7L315 1035.3M315 1035.2L767.1 1132.8" stroke="#c9d0ce" stroke-width="2.8" fill="none"/>
<polygon points="696,1087.1 768.4,1102.5 763.6,1216 696,1216" fill="#f6f6f5"/>
<g stroke="#66e02a" fill="#66e02a"><path d="M350.4 1198L349.5 1222M349.5 1222L321.9 1230.4M349.5 1222L375.3 1220.5M321.9 1230.4L318.9 1290.9M318.9 1290.9L333.9 1329.9M375.3 1220.5L381.9 1263.9M381.9 1263.9L383.4 1305.9M321.9 1230.4L332.4 1329.9M375.3 1220.5L365.4 1322.4M332.4 1329.9L365.4 1322.4M332.4 1329.9L333.3 1403.4M333.3 1403.4L320.4 1466.3M365.4 1322.4L362.4 1397.4M362.4 1397.4L356.4 1466.3" stroke-width="3.4" stroke-dasharray="16 5 3 5" fill="none"/>
<circle cx="350.4" cy="1198" r="6.8" stroke="none"/><circle cx="349.5" cy="1222" r="6.8" stroke="none"/><circle cx="321.9" cy="1230.4" r="6.8" stroke="none"/><circle cx="375.3" cy="1220.5" r="6.8" stroke="none"/><circle cx="318.9" cy="1290.9" r="6.8" stroke="none"/><circle cx="381.9" cy="1263.9" r="6.8" stroke="none"/><circle cx="333.9" cy="1329.9" r="6.8" stroke="none"/><circle cx="383.4" cy="1305.9" r="6.8" stroke="none"/><circle cx="332.4" cy="1329.9" r="6.8" stroke="none"/><circle cx="365.4" cy="1322.4" r="6.8" stroke="none"/><circle cx="333.3" cy="1403.4" r="6.8" stroke="none"/><circle cx="362.4" cy="1397.4" r="6.8" stroke="none"/><circle cx="320.4" cy="1466.3" r="6.8" stroke="none"/><circle cx="356.4" cy="1466.3" r="6.8" stroke="none"/>
</g>
<g stroke="#e8641a" fill="#e8641a"><path d="M350.4 1198L349.5 1222" stroke-width="3.4" stroke-dasharray="16 5 3 5" fill="none"/>
<circle cx="350.4" cy="1198" r="6.8" stroke="none"/><circle cx="349.5" cy="1222" r="6.8" stroke="none"/><circle cx="365.4" cy="1322.4" r="6.8" stroke="none"/><circle cx="362.4" cy="1397.4" r="6.8" stroke="none"/>
</g>
<g stroke="#f03a2c" fill="#f03a2c"><path d="M273.3 1275.9L233.5 1286.4M233.5 1286.4L236.5 1335.9M236.5 1335.9L217 1356.9M217 1356.9L209.5 1406.4M236.5 1335.9L256 1376.4M236.5 1335.9L227.5 1389.9M227.5 1389.9L235 1410.9M217 1356.9L227.5 1389.9M227.5 1389.9L226 1461.8M235 1410.9L257.5 1476.8M226 1461.8L223 1532.3M257.5 1476.8L275.4 1539.8M209.5 1406.4L227.5 1389.9" stroke-width="3.4" stroke-dasharray="16 5 3 5" fill="none"/>
<circle cx="273.3" cy="1275.9" r="6.8" stroke="none"/><circle cx="233.5" cy="1286.4" r="6.8" stroke="none"/><circle cx="236.5" cy="1335.9" r="6.8" stroke="none"/><circle cx="217" cy="1356.9" r="6.8" stroke="none"/><circle cx="256" cy="1376.4" r="6.8" stroke="none"/><circle cx="209.5" cy="1406.4" r="6.8" stroke="none"/><circle cx="227.5" cy="1389.9" r="6.8" stroke="none"/><circle cx="235" cy="1410.9" r="6.8" stroke="none"/><circle cx="226" cy="1461.8" r="6.8" stroke="none"/><circle cx="257.5" cy="1476.8" r="6.8" stroke="none"/><circle cx="223" cy="1532.3" r="6.8" stroke="none"/><circle cx="275.4" cy="1539.8" r="6.8" stroke="none"/>
</g>
<g stroke="#c23ad6" fill="#c23ad6"><path d="M450.3 1184.5L465.8 1204M465.8 1204L485.3 1214.5M485.3 1214.5L501.8 1223.5M429.9 1220.5L450.3 1253.4M450.3 1253.4L465.8 1204M501.8 1223.5L507.8 1287.9M507.8 1287.9L488.3 1323.9M465.8 1204L468.8 1305.9M501.8 1223.5L489.8 1329.9M468.8 1305.9L489.8 1329.9M468.8 1305.9L471.8 1382.4M471.8 1382.4L488.3 1475.3" stroke-width="3.4" stroke-dasharray="16 5 3 5" fill="none"/>
<circle cx="450.3" cy="1184.5" r="6.8" stroke="none"/><circle cx="465.8" cy="1204" r="6.8" stroke="none"/><circle cx="485.3" cy="1214.5" r="6.8" stroke="none"/><circle cx="501.8" cy="1223.5" r="6.8" stroke="none"/><circle cx="429.9" cy="1220.5" r="6.8" stroke="none"/><circle cx="450.3" cy="1253.4" r="6.8" stroke="none"/><circle cx="507.8" cy="1287.9" r="6.8" stroke="none"/><circle cx="488.3" cy="1323.9" r="6.8" stroke="none"/><circle cx="468.8" cy="1305.9" r="6.8" stroke="none"/><circle cx="489.8" cy="1329.9" r="6.8" stroke="none"/><circle cx="471.8" cy="1382.4" r="6.8" stroke="none"/><circle cx="488.3" cy="1475.3" r="6.8" stroke="none"/>
</g>
<g stroke="#1230d0" fill="#1230d0"><path d="M477.2 1292.4L498.8 1329.9M498.8 1329.9L480.8 1337.4M498.8 1329.9L519.8 1320.9M480.8 1337.4L480.8 1401.9M480.8 1401.9L468.8 1440.9M519.8 1320.9L534.8 1374.9M534.8 1374.9L521.3 1410.9M480.8 1337.4L485.3 1446.9M519.8 1320.9L515.3 1434.9M485.3 1446.9L515.3 1434.9M485.3 1446.9L470.3 1511.3M470.3 1511.3L478.7 1583.3M515.3 1434.9L515.3 1520.3M515.3 1520.3L521.3 1595.3" stroke-width="3.4" stroke-dasharray="16 5 3 5" fill="none"/>
<circle cx="477.2" cy="1292.4" r="6.8" stroke="none"/><circle cx="498.8" cy="1329.9" r="6.8" stroke="none"/><circle cx="480.8" cy="1337.4" r="6.8" stroke="none"/><circle cx="519.8" cy="1320.9" r="6.8" stroke="none"/><circle cx="480.8" cy="1401.9" r="6.8" stroke="none"/><circle cx="534.8" cy="1374.9" r="6.8" stroke="none"/><circle cx="468.8" cy="1440.9" r="6.8" stroke="none"/><circle cx="521.3" cy="1410.9" r="6.8" stroke="none"/><circle cx="485.3" cy="1446.9" r="6.8" stroke="none"/><circle cx="515.3" cy="1434.9" r="6.8" stroke="none"/><circle cx="470.3" cy="1511.3" r="6.8" stroke="none"/><circle cx="515.3" cy="1520.3" r="6.8" stroke="none"/><circle cx="478.7" cy="1583.3" r="6.8" stroke="none"/><circle cx="521.3" cy="1595.3" r="6.8" stroke="none"/>
</g>
<polygon points="24.8,1181.5 314.7,1006 768.4,1102.5 751.9,1496 503.5,1713 43,1584.5" fill="none" stroke="#0a0a0a" stroke-width="4.4" stroke-linejoin="miter"/>
<text transform="translate(841.6 1144.5) rotate(0)" y="21.1" text-anchor="middle">1.00</text>
<text transform="translate(830.5 1230.5) rotate(0)" y="21.1" text-anchor="middle">0.50</text>
<text transform="translate(790.4 1320) rotate(0)" y="21.1" text-anchor="middle">0</text>
<text transform="translate(841.5 1405.6) rotate(0)" y="21.1" text-anchor="middle">−0.50</text>
<text transform="translate(841 1484.8) rotate(0)" y="21.1" text-anchor="middle">−1.00</text>
<text transform="translate(770 1543) rotate(0)" y="21.1" text-anchor="middle">3</text>
<text transform="translate(680.6 1622.5) rotate(0)" y="21.1" text-anchor="middle">2</text>
<text transform="translate(593.6 1705.6) rotate(0)" y="21.1" text-anchor="middle">1</text>
<text transform="translate(45.8 1652) rotate(-42)" y="21.1" text-anchor="middle">−2</text>
<text transform="translate(172.5 1696) rotate(-42)" y="21.1" text-anchor="middle">−1</text>
<text transform="translate(315.5 1717.2) rotate(-42)" y="21.1" text-anchor="middle">0</text>
<text transform="translate(460 1755) rotate(-42)" y="21.1" text-anchor="middle">1</text>
<text transform="translate(228.5 1775.8) rotate(16)" y="13.9" text-anchor="middle" font-style="italic">x</text>
<text transform="translate(727.5 1691.5) rotate(-41)" y="7.6" text-anchor="middle" font-style="italic">y</text>
<text transform="translate(933.8 1322.5) rotate(90)" y="13.9" text-anchor="middle" font-style="italic">z</text>
<text x="397" y="1892" text-anchor="middle">(e) 案例5, Shape-aware</text>
</g>
<g>
<polygon points="976.3,1213.2 1267.2,1005.6 1271,1336.5 993.8,1563.8" fill="#f7f7f6"/>
<polygon points="1267.2,1005.6 1718.9,1123.8 1704.6,1463.8 1271,1336.5" fill="#f6f6f5"/>
<polygon points="993.8,1563.8 1271,1336.5 1704.6,1463.8 1457.5,1712.7" fill="#f8f8f7"/>
<path d="M1046.2 1520.8L1031.5 1173.8M1046.4 1520.7L1504.5 1665.4M1100.2 1476.5L1088.2 1133.3M1100.4 1476.4L1552.7 1616.8M1152.5 1433.7L1143.1 1094.2M1152.7 1433.5L1599.3 1569.8M1203.1 1392.2L1196.1 1056.3M1203.3 1392L1644.4 1524.5M1252.2 1351.9L1247.5 1019.7M1252.2 1351.9L1687.9 1480.6M1291.9 1342.6L1288.9 1011.3M1016.1 1571L1291.9 1342.6M1338.4 1356.3L1337.3 1024M1066 1587L1338.7 1356.3M1385.4 1370.1L1386.3 1036.8M1116.2 1603.1L1385.8 1370.2M1432.9 1384L1435.6 1049.7M1167 1619.4L1433.3 1384.1M1480.7 1398.1L1485.5 1062.7M1218.2 1635.9L1481.2 1398.2M1529 1412.2L1535.8 1075.9M1269.8 1652.4L1529.5 1412.4M1577.8 1426.6L1586.6 1089.2M1322 1669.2L1578.2 1426.7M1627 1441L1637.9 1102.6M1374.6 1686.1L1627.3 1441.1M1676.7 1455.6L1689.7 1116.2M1427.6 1703.1L1676.8 1455.6M992.9 1546.7L1270.8 1320.3M1270.8 1320.2L1705.3 1447.1M991.1 1509.5L1270.4 1285.1M1270.4 1285L1706.8 1410.9M989.2 1472L1270 1249.6M1270 1249.4L1708.4 1374.4M987.3 1434.1L1269.6 1213.8M1269.6 1213.5L1709.9 1337.6M985.4 1395.8L1269.2 1177.6M1269.2 1177.3L1711.5 1300.4M983.5 1357.1L1268.8 1141.1M1268.8 1140.8L1713.1 1262.8M981.5 1317.9L1268.3 1104.2M1268.3 1103.9L1714.6 1225M979.6 1278.4L1267.9 1067M1267.9 1066.8L1716.3 1186.7M977.6 1238.5L1267.5 1029.4M1267.5 1029.3L1717.9 1148.2" stroke="#cfd6d4" stroke-width="2.2" fill="none"/>
<g stroke="#66e02a" fill="#66e02a" stroke-linecap="round" stroke-linejoin="round"><path d="M1538.8 1087L1536.4 1111M1536.4 1111L1522.4 1111M1536.4 1111L1558.3 1105M1522.4 1111L1499.9 1132M1499.9 1132L1478.9 1163.4M1558.3 1105L1564.3 1142.5M1564.3 1142.5L1550.8 1182.9M1522.4 1111L1535.8 1203.9M1558.3 1105L1547.8 1203.9M1535.8 1203.9L1547.8 1203.9M1535.8 1203.9L1522.4 1242.9M1522.4 1242.9L1507.4 1308.9M1547.8 1203.9L1555.3 1239.9M1555.3 1239.9L1568.8 1269.9M1568.8 1269.9L1549.3 1283.4" stroke-width="10.7" fill="none"/>
<path d="M1536.4 1111L1535.8 1203.9M1536.4 1111L1547.8 1203.9M1522.4 1111L1558.3 1105" stroke-width="12" fill="none"/>
<circle cx="1538.8" cy="1087" r="11" stroke="none"/><circle cx="1536.4" cy="1111" r="8.6" stroke="none"/><circle cx="1522.4" cy="1111" r="8.6" stroke="none"/><circle cx="1558.3" cy="1105" r="8.6" stroke="none"/><circle cx="1499.9" cy="1132" r="8.6" stroke="none"/><circle cx="1564.3" cy="1142.5" r="8.6" stroke="none"/><circle cx="1478.9" cy="1163.4" r="11.1" stroke="none"/><circle cx="1550.8" cy="1182.9" r="8.6" stroke="none"/><circle cx="1535.8" cy="1203.9" r="8.6" stroke="none"/><circle cx="1547.8" cy="1203.9" r="8.6" stroke="none"/><circle cx="1522.4" cy="1242.9" r="8.6" stroke="none"/><circle cx="1555.3" cy="1239.9" r="8.6" stroke="none"/><circle cx="1507.4" cy="1308.9" r="11.1" stroke="none"/><circle cx="1568.8" cy="1269.9" r="8.6" stroke="none"/><circle cx="1549.3" cy="1283.4" r="8.6" stroke="none"/>
</g>
<g stroke="#e8641a" fill="#e8641a" stroke-linecap="round" stroke-linejoin="round"><path d="M1294.5 1241.4L1290 1271.4M1290 1271.4L1276.5 1278.9M1290 1271.4L1297.5 1287.9M1276.5 1278.9L1275 1323.9M1275 1323.9L1303.5 1349.4M1297.5 1287.9L1314 1323.9M1314 1323.9L1317 1346.4M1290 1271.4L1299 1329.9M1299 1329.9L1303.5 1349.4M1303.5 1349.4L1317 1346.4M1303.5 1349.4L1294.5 1401.8M1294.5 1401.8L1291.5 1452.8M1291.5 1452.8L1303.5 1473.2M1317 1346.4L1308 1398.8M1308 1398.8L1302 1434.8M1302 1434.8L1321.5 1438.4" stroke-width="9.2" fill="none"/>
<path d="M1290 1271.4L1299 1329.9M1299 1329.9L1303.5 1349.4M1276.5 1278.9L1297.5 1287.9" stroke-width="13" fill="none"/>
<circle cx="1294.5" cy="1241.4" r="11" stroke="none"/><circle cx="1290" cy="1271.4" r="7.8" stroke="none"/><circle cx="1276.5" cy="1278.9" r="7.8" stroke="none"/><circle cx="1297.5" cy="1287.9" r="7.8" stroke="none"/><circle cx="1275" cy="1323.9" r="7.8" stroke="none"/><circle cx="1314" cy="1323.9" r="7.8" stroke="none"/><circle cx="1299" cy="1329.9" r="7.8" stroke="none"/><circle cx="1303.5" cy="1349.4" r="7.8" stroke="none"/><circle cx="1317" cy="1346.4" r="7.8" stroke="none"/><circle cx="1294.5" cy="1401.8" r="7.8" stroke="none"/><circle cx="1308" cy="1398.8" r="7.8" stroke="none"/><circle cx="1302" cy="1434.8" r="7.8" stroke="none"/><circle cx="1321.5" cy="1438.4" r="7.8" stroke="none"/><circle cx="1291.5" cy="1452.8" r="7.8" stroke="none"/><circle cx="1303.5" cy="1473.2" r="7.8" stroke="none"/>
</g>
<g stroke="#1230d0" fill="#1230d0" stroke-linecap="round" stroke-linejoin="round"><path d="M1374.5 1272.9L1375.4 1299.9M1375.4 1299.9L1349.9 1304.4M1375.4 1299.9L1400.9 1299.9M1349.9 1304.4L1337.9 1334.4M1337.9 1334.4L1361.9 1355.4M1400.9 1299.9L1424.9 1323.9M1424.9 1323.9L1402.4 1365.8M1375.4 1299.9L1378.4 1383.8M1378.4 1383.8L1369.4 1389.8M1378.4 1383.8L1390.4 1391.3M1369.4 1389.8L1363.4 1457.3M1363.4 1457.3L1363.4 1535.3M1390.4 1391.3L1402.4 1443.8M1402.4 1443.8L1414.4 1517.3" stroke-width="9.2" fill="none"/>
<path d="M1375.4 1299.9L1378.4 1383.8M1349.9 1304.4L1400.9 1299.9M1374.5 1272.9L1375.4 1299.9" stroke-width="14" fill="none"/>
<circle cx="1374.5" cy="1272.9" r="11.5" stroke="none"/><circle cx="1375.4" cy="1299.9" r="7.8" stroke="none"/><circle cx="1349.9" cy="1304.4" r="7.8" stroke="none"/><circle cx="1400.9" cy="1299.9" r="7.8" stroke="none"/><circle cx="1337.9" cy="1334.4" r="7.8" stroke="none"/><circle cx="1424.9" cy="1323.9" r="7.8" stroke="none"/><circle cx="1361.9" cy="1355.4" r="7.8" stroke="none"/><circle cx="1402.4" cy="1365.8" r="10.3" stroke="none"/><circle cx="1369.4" cy="1389.8" r="7.8" stroke="none"/><circle cx="1390.4" cy="1391.3" r="7.8" stroke="none"/><circle cx="1363.4" cy="1457.3" r="7.8" stroke="none"/><circle cx="1402.4" cy="1443.8" r="7.8" stroke="none"/><circle cx="1363.4" cy="1535.3" r="10.3" stroke="none"/><circle cx="1414.4" cy="1517.3" r="10.3" stroke="none"/><circle cx="1378.4" cy="1383.8" r="7.8" stroke="none"/>
</g>
<polygon points="976.3,1213.2 1267.2,1005.6 1718.9,1123.8 1704.6,1463.8 1457.5,1712.7 993.8,1563.8" fill="none" stroke="#0a0a0a" stroke-width="4.4" stroke-linejoin="miter"/>
<text transform="translate(1804.7 1118.8) rotate(0)" y="21.1" text-anchor="middle">1.00</text>
<text transform="translate(1794 1205) rotate(0)" y="21.1" text-anchor="middle">0.50</text>
<text transform="translate(1751.4 1294) rotate(0)" y="21.1" text-anchor="middle">0</text>
<text transform="translate(1802.7 1379) rotate(0)" y="21.1" text-anchor="middle">−0.50</text>
<text transform="translate(1802.7 1458.8) rotate(0)" y="21.1" text-anchor="middle">−1.00</text>
<text transform="translate(1530 1680) rotate(0)" y="21.1" text-anchor="middle">0</text>
<text transform="translate(1638.9 1583.9) rotate(0)" y="21.1" text-anchor="middle">1</text>
<text transform="translate(1725.2 1493.8) rotate(0)" y="21.1" text-anchor="middle">2</text>
<text transform="translate(980.7 1622.5) rotate(-45)" y="21.1" text-anchor="middle">−2.5</text>
<text transform="translate(1071.9 1659.1) rotate(-45)" y="21.1" text-anchor="middle">−1.5</text>
<text transform="translate(1184.6 1687.7) rotate(-45)" y="21.1" text-anchor="middle">−0.5</text>
<text transform="translate(1291.5 1710.5) rotate(-45)" y="21.1" text-anchor="middle">0.5</text>
<text transform="translate(1395.4 1748.4) rotate(-45)" y="21.1" text-anchor="middle">1.5</text>
<text transform="translate(1158.9 1781) rotate(16)" y="13.9" text-anchor="middle" font-style="italic">x</text>
<text transform="translate(1687.5 1667.5) rotate(-41)" y="7.6" text-anchor="middle" font-style="italic">y</text>
<text transform="translate(1897 1294.7) rotate(90)" y="13.9" text-anchor="middle" font-style="italic">z</text>
<text x="1355" y="1892" text-anchor="middle">(f) 案例1, 本文</text>
</g>
<g>
<polygon points="1929.7,1210.7 2216.7,1006 2219.7,1335.3 1946.2,1559.6" fill="#f7f7f6"/>
<polygon points="2216.7,1006 2672.2,1116.9 2657.3,1463 2219.7,1335.3" fill="#f6f6f5"/>
<polygon points="1946.2,1559.6 2219.7,1335.3 2657.3,1463 2410,1714.2" fill="#f8f8f7"/>
<path d="M1997.9 1517.2L1984.1 1171.9M1998.1 1517L2457.2 1666.3M2051.2 1473.5L2040.1 1132M2051.5 1473.3L2505.5 1617.2M2102.7 1431.2L2094.2 1093.4M2103 1431L2552.2 1569.8M2152.7 1390.3L2146.6 1056M2152.9 1390.1L2597.2 1524.1M2201.1 1350.6L2197.3 1019.9M2201.2 1350.5L2640.7 1479.9M2240.3 1341.3L2238.1 1011.2M1968.1 1566.9L2240.4 1341.4M2286.5 1354.8L2286.1 1022.9M2017.1 1583.2L2286.9 1354.9M2333.4 1368.5L2334.8 1034.8M2066.8 1599.8L2333.9 1368.6M2380.9 1382.3L2384.2 1046.8M2117.2 1616.6L2381.5 1382.5M2429.1 1396.4L2434.3 1059M2168.2 1633.6L2429.7 1396.6M2477.9 1410.6L2485.2 1071.4M2219.9 1650.8L2478.6 1410.8M2527.4 1425.1L2536.7 1083.9M2272.4 1668.3L2528 1425.3M2577.6 1439.7L2589.1 1096.7M2325.6 1686.1L2578 1439.9M2628.5 1454.6L2642.2 1109.6M2379.5 1704L2628.7 1454.7M1945.4 1542.6L2219.5 1319.2M2219.5 1319.1L2658 1446M1943.6 1505.6L2219.2 1284.2M2219.2 1284L2659.6 1409.1M1941.9 1468.3L2218.9 1248.9M2218.9 1248.5L2661.2 1372M1940.1 1430.5L2218.6 1213.2M2218.6 1212.8L2662.8 1334.4M1938.3 1392.4L2218.3 1177.2M2218.3 1176.7L2664.5 1296.6M1936.5 1353.9L2217.9 1140.8M2217.9 1140.4L2666.1 1258.4M1934.6 1315L2217.6 1104.1M2217.6 1103.8L2667.8 1219.8M1932.8 1275.6L2217.3 1067.1M2217.3 1066.8L2669.4 1180.9M1930.9 1235.9L2216.9 1029.7M2216.9 1029.5L2671.1 1141.7" stroke="#cfd6d4" stroke-width="2.2" fill="none"/>
<g stroke="#66e02a" fill="#66e02a" stroke-linecap="round" stroke-linejoin="round"><path d="M2424.9 1087.5L2429.4 1110M2429.4 1110L2402.4 1120.5M2429.4 1110L2450.4 1105.5M2402.4 1120.5L2396.4 1169.9M2396.4 1169.9L2399.4 1220.9M2450.4 1105.5L2471.3 1140M2471.3 1140L2472.8 1190.9M2429.4 1110L2433.3 1190.9M2433.3 1190.9L2423.4 1192.4M2433.3 1190.9L2442.9 1193.9M2423.4 1192.4L2418.9 1259.9M2418.9 1259.9L2412.9 1333.4M2442.9 1193.9L2448.9 1253.9M2448.9 1253.9L2441.4 1301.9M2441.4 1301.9L2457.9 1327.4" stroke-width="10.2" fill="none"/>
<path d="M2429.4 1110L2433.3 1190.9M2424.9 1087.5L2429.4 1110" stroke-width="14" fill="none"/>
<circle cx="2424.9" cy="1087.5" r="11" stroke="none"/><circle cx="2429.4" cy="1110" r="8.3" stroke="none"/><circle cx="2402.4" cy="1120.5" r="8.3" stroke="none"/><circle cx="2450.4" cy="1105.5" r="8.3" stroke="none"/><circle cx="2396.4" cy="1169.9" r="8.3" stroke="none"/><circle cx="2471.3" cy="1140" r="8.3" stroke="none"/><circle cx="2399.4" cy="1220.9" r="10.8" stroke="none"/><circle cx="2472.8" cy="1190.9" r="10.8" stroke="none"/><circle cx="2423.4" cy="1192.4" r="8.3" stroke="none"/><circle cx="2442.9" cy="1193.9" r="8.3" stroke="none"/><circle cx="2418.9" cy="1259.9" r="8.3" stroke="none"/><circle cx="2448.9" cy="1253.9" r="8.3" stroke="none"/><circle cx="2412.9" cy="1333.4" r="8.3" stroke="none"/><circle cx="2441.4" cy="1301.9" r="8.3" stroke="none"/><circle cx="2457.9" cy="1327.4" r="8.3" stroke="none"/><circle cx="2433.3" cy="1190.9" r="8.3" stroke="none"/>
</g>
<g stroke="#e8641a" fill="#e8641a" stroke-linecap="round" stroke-linejoin="round"><path d="M2255.5 1234.4L2240.5 1256.9M2240.5 1256.9L2237.5 1282.4M2237.5 1282.4L2231.5 1316.9M2237.5 1282.4L2269 1307.9M2269 1307.9L2270.4 1321.4M2237.5 1282.4L2248 1319.9M2231.5 1316.9L2248 1319.9M2248 1319.9L2260 1339.4M2260 1339.4L2260 1376.8M2260 1376.8L2261.5 1424.8M2261.5 1424.8L2276.4 1429.3M2260 1339.4L2254 1409.8M2254 1409.8L2249.5 1445.8M2249.5 1445.8L2267.5 1463.2" stroke-width="9.2" fill="none"/>
<path d="M2255.5 1234.4L2240.5 1256.9M2240.5 1256.9L2237.5 1282.4M2237.5 1282.4L2248 1319.9M2248 1319.9L2260 1339.4" stroke-width="14" fill="none"/>
<circle cx="2255.5" cy="1234.4" r="10.5" stroke="none"/><circle cx="2240.5" cy="1256.9" r="7.8" stroke="none"/><circle cx="2237.5" cy="1282.4" r="7.8" stroke="none"/><circle cx="2231.5" cy="1316.9" r="7.8" stroke="none"/><circle cx="2269" cy="1307.9" r="7.8" stroke="none"/><circle cx="2270.4" cy="1321.4" r="7.8" stroke="none"/><circle cx="2248" cy="1319.9" r="7.8" stroke="none"/><circle cx="2260" cy="1339.4" r="7.8" stroke="none"/><circle cx="2260" cy="1376.8" r="7.8" stroke="none"/><circle cx="2261.5" cy="1424.8" r="7.8" stroke="none"/><circle cx="2276.4" cy="1429.3" r="7.8" stroke="none"/><circle cx="2254" cy="1409.8" r="7.8" stroke="none"/><circle cx="2249.5" cy="1445.8" r="7.8" stroke="none"/><circle cx="2267.5" cy="1463.2" r="7.8" stroke="none"/>
</g>
<g stroke="#1230d0" fill="#1230d0" stroke-linecap="round" stroke-linejoin="round"><path d="M2364.3 1241.9L2376.9 1271.9M2376.9 1271.9L2351.4 1277.9M2376.9 1271.9L2396.4 1259.9M2351.4 1277.9L2334.9 1324.4M2334.9 1324.4L2357.4 1337.9M2396.4 1259.9L2420.4 1273.4M2420.4 1273.4L2400.9 1310.9M2376.9 1271.9L2379.9 1334.9M2379.9 1334.9L2370.9 1358.8M2379.9 1334.9L2390.4 1346.9M2370.9 1358.8L2366.4 1417.3M2366.4 1417.3L2366.4 1498.3M2390.4 1346.9L2402.4 1391.8M2402.4 1391.8L2412.9 1457.8M2366.4 1498.3L2379.9 1489.3" stroke-width="9.2" fill="none"/>
<path d="M2376.9 1271.9L2379.9 1334.9M2351.4 1277.9L2396.4 1259.9M2364.3 1241.9L2376.9 1271.9" stroke-width="14" fill="none"/>
<circle cx="2364.3" cy="1241.9" r="11.5" stroke="none"/><circle cx="2376.9" cy="1271.9" r="7.8" stroke="none"/><circle cx="2351.4" cy="1277.9" r="7.8" stroke="none"/><circle cx="2396.4" cy="1259.9" r="7.8" stroke="none"/><circle cx="2334.9" cy="1324.4" r="7.8" stroke="none"/><circle cx="2420.4" cy="1273.4" r="7.8" stroke="none"/><circle cx="2357.4" cy="1337.9" r="10.3" stroke="none"/><circle cx="2400.9" cy="1310.9" r="10.3" stroke="none"/><circle cx="2370.9" cy="1358.8" r="7.8" stroke="none"/><circle cx="2390.4" cy="1346.9" r="7.8" stroke="none"/><circle cx="2366.4" cy="1417.3" r="7.8" stroke="none"/><circle cx="2402.4" cy="1391.8" r="7.8" stroke="none"/><circle cx="2366.4" cy="1498.3" r="7.8" stroke="none"/><circle cx="2412.9" cy="1457.8" r="7.8" stroke="none"/><circle cx="2379.9" cy="1334.9" r="7.8" stroke="none"/><circle cx="2379.9" cy="1489.3" r="7.8" stroke="none"/>
</g>
<polygon points="1929.7,1210.7 2216.7,1006 2672.2,1116.9 2657.3,1463 2410,1714.2 1946.2,1559.6" fill="none" stroke="#0a0a0a" stroke-width="4.4" stroke-linejoin="miter"/>
<text transform="translate(2748.9 1118.8) rotate(0)" y="21.1" text-anchor="middle">1.00</text>
<text transform="translate(2738.2 1205) rotate(0)" y="21.1" text-anchor="middle">0.50</text>
<text transform="translate(2695.6 1294) rotate(0)" y="21.1" text-anchor="middle">0</text>
<text transform="translate(2746.9 1379) rotate(0)" y="21.1" text-anchor="middle">−0.50</text>
<text transform="translate(2746.9 1458.8) rotate(0)" y="21.1" text-anchor="middle">−1.00</text>
<text transform="translate(2474.2 1680) rotate(0)" y="21.1" text-anchor="middle">0</text>
<text transform="translate(2583.1 1583.9) rotate(0)" y="21.1" text-anchor="middle">1</text>
<text transform="translate(2669.4 1493.8) rotate(0)" y="21.1" text-anchor="middle">2</text>
<text transform="translate(1927.9 1623.5) rotate(-45)" y="21.1" text-anchor="middle">−2.5</text>
<text transform="translate(2016.1 1659.1) rotate(-45)" y="21.1" text-anchor="middle">−1.5</text>
<text transform="translate(2128.8 1687.7) rotate(-45)" y="21.1" text-anchor="middle">−0.5</text>
<text transform="translate(2235.7 1710.5) rotate(-45)" y="21.1" text-anchor="middle">0.5</text>
<text transform="translate(2339.6 1748.4) rotate(-45)" y="21.1" text-anchor="middle">1.5</text>
<text transform="translate(2103.1 1781) rotate(16)" y="13.9" text-anchor="middle" font-style="italic">x</text>
<text transform="translate(2631.7 1667.5) rotate(-41)" y="7.6" text-anchor="middle" font-style="italic">y</text>
<text transform="translate(2841.2 1294.7) rotate(90)" y="13.9" text-anchor="middle" font-style="italic">z</text>
<text x="2290" y="1892" text-anchor="middle">(g) 案例2, 本文</text>
</g>
<g>
<polygon points="2863,1207.4 3150.1,1006 3153.8,1335.8 2879,1560.7" fill="#f7f7f6"/>
<polygon points="3150.1,1006 3605,1118 3590,1462 3153.8,1335.8" fill="#f6f6f5"/>
<polygon points="2879,1560.7 3153.8,1335.8 3590,1462 3341.7,1714.2" fill="#f8f8f7"/>
<path d="M2931.3 1517.9L2917.8 1169M2931.2 1517.9L3389.1 1666M2985 1474L2974 1129.6M2984.9 1474.1L3437.7 1616.7M3036.8 1431.6L3028.1 1091.6M3036.7 1431.7L3484.5 1569.1M3086.8 1390.6L3080.4 1054.9M3086.8 1390.7L3529.7 1523.2M3135.2 1351L3130.8 1019.5M3135.2 1351L3573.3 1478.9M3174.5 1341.8L3171.6 1011.3M2900.8 1567.9L3174.4 1341.8M3220.8 1355.2L3219.9 1023.2M2949.7 1584.1L3220.7 1355.2M3267.7 1368.8L3268.7 1035.2M2999.2 1600.6L3267.6 1368.7M3315.2 1382.5L3318.2 1047.4M3049.4 1617.2L3315 1382.5M3363.2 1396.4L3368.3 1059.7M3100.3 1634.1L3363.1 1396.4M3411.9 1410.5L3419 1072.2M3152 1651.3L3411.7 1410.4M3461.1 1424.7L3470.4 1084.9M3204.3 1668.6L3461 1424.7M3511 1439.2L3522.5 1097.7M3257.4 1686.2L3510.9 1439.1M3561.5 1453.8L3575.2 1110.7M3311.3 1704.1L3561.5 1453.7M2878.2 1543.4L3153.6 1319.6M3153.6 1319.6L3590.7 1445.1M2876.5 1505.8L3153.2 1284.4M3153.2 1284.5L3592.3 1408.6M2874.8 1467.9L3152.8 1249M3152.8 1249L3593.9 1371.6M2873.1 1429.6L3152.4 1213.2M3152.4 1213.3L3595.6 1334.4M2871.3 1391L3152 1177.1M3152 1177.2L3597.2 1296.7M2869.5 1352L3151.6 1140.7M3151.6 1140.8L3598.9 1258.8M2867.8 1312.6L3151.2 1104M3151.2 1104.1L3600.5 1220.4M2866 1272.9L3150.8 1066.9M3150.8 1067L3602.2 1181.7M2864.1 1232.8L3150.4 1029.6M3150.4 1029.6L3603.9 1142.7" stroke="#cfd6d4" stroke-width="2.2" fill="none"/>
<g stroke="#c23ad6" fill="#c23ad6" stroke-linecap="round" stroke-linejoin="round"><path d="M3286.5 1084.5L3288.9 1111.5M3288.9 1111.5L3276.9 1131M3288.9 1111.5L3297.9 1113M3276.9 1131L3260.4 1177.4M3260.4 1177.4L3254.4 1199.9M3254.4 1199.9L3267.9 1214.9M3297.9 1113L3299.4 1175.9M3299.4 1175.9L3293.4 1202.9M3288.9 1111.5L3287.4 1169.9M3287.4 1169.9L3282.9 1223.9M3287.4 1169.9L3294.9 1235.9M3282.9 1223.9L3294.9 1235.9M3282.9 1223.9L3282.9 1286.9M3282.9 1286.9L3270.9 1311.5M3294.9 1235.9L3305.4 1286.9M3305.4 1286.9L3296.4 1318.4" stroke-width="10.2" fill="none"/>
<path d="M3286.5 1084.5L3288.9 1111.5M3288.9 1111.5L3287.4 1169.9M3287.4 1169.9L3282.9 1223.9M3287.4 1169.9L3294.9 1235.9" stroke-width="15" fill="none"/>
<circle cx="3286.5" cy="1084.5" r="11" stroke="none"/><circle cx="3288.9" cy="1111.5" r="8.3" stroke="none"/><circle cx="3276.9" cy="1131" r="8.3" stroke="none"/><circle cx="3297.9" cy="1113" r="8.3" stroke="none"/><circle cx="3260.4" cy="1177.4" r="8.3" stroke="none"/><circle cx="3299.4" cy="1175.9" r="8.3" stroke="none"/><circle cx="3254.4" cy="1199.9" r="10.8" stroke="none"/><circle cx="3267.9" cy="1214.9" r="10.8" stroke="none"/><circle cx="3293.4" cy="1202.9" r="8.3" stroke="none"/><circle cx="3282.9" cy="1223.9" r="8.3" stroke="none"/><circle cx="3294.9" cy="1235.9" r="8.3" stroke="none"/><circle cx="3282.9" cy="1286.9" r="8.3" stroke="none"/><circle cx="3305.4" cy="1286.9" r="8.3" stroke="none"/><circle cx="3270.9" cy="1311.5" r="8.3" stroke="none"/><circle cx="3296.4" cy="1318.4" r="8.3" stroke="none"/><circle cx="3287.4" cy="1169.9" r="8.3" stroke="none"/>
</g>
<g stroke="#e8641a" fill="#e8641a" stroke-linecap="round" stroke-linejoin="round"><path d="M3234.3 1217.9L3230.4 1244.9M3230.4 1244.9L3212.4 1241.9M3230.4 1244.9L3242.4 1256.9M3212.4 1241.9L3196 1253.9M3196 1253.9L3195.4 1279.4M3195.4 1279.4L3219.9 1292.3M3242.4 1256.9L3246.3 1292.9M3230.4 1244.9L3231.9 1319.9M3219.9 1292.3L3231.9 1319.9M3246.3 1292.9L3231.9 1319.9M3231.9 1319.9L3228.3 1379.8M3231.9 1319.9L3242.4 1375.3M3228.3 1379.8L3227.4 1423.3M3242.4 1375.3L3239.4 1433.8M3227.4 1423.3L3246.9 1450.3M3239.4 1433.8L3251.4 1442.8" stroke-width="9.2" fill="none"/>
<path d="M3234.3 1217.9L3230.4 1244.9M3230.4 1244.9L3231.9 1319.9" stroke-width="15" fill="none"/>
<circle cx="3234.3" cy="1217.9" r="11" stroke="none"/><circle cx="3230.4" cy="1244.9" r="7.8" stroke="none"/><circle cx="3212.4" cy="1241.9" r="7.8" stroke="none"/><circle cx="3242.4" cy="1256.9" r="7.8" stroke="none"/><circle cx="3196" cy="1253.9" r="7.8" stroke="none"/><circle cx="3195.4" cy="1279.4" r="7.8" stroke="none"/><circle cx="3219.9" cy="1292.3" r="7.8" stroke="none"/><circle cx="3246.3" cy="1292.9" r="7.8" stroke="none"/><circle cx="3231.9" cy="1319.9" r="7.8" stroke="none"/><circle cx="3228.3" cy="1379.8" r="7.8" stroke="none"/><circle cx="3242.4" cy="1375.3" r="7.8" stroke="none"/><circle cx="3227.4" cy="1423.3" r="7.8" stroke="none"/><circle cx="3239.4" cy="1433.8" r="7.8" stroke="none"/><circle cx="3246.9" cy="1450.3" r="7.8" stroke="none"/><circle cx="3251.4" cy="1442.8" r="7.8" stroke="none"/>
</g>
<g stroke="#1230d0" fill="#1230d0" stroke-linecap="round" stroke-linejoin="round"><path d="M3333.9 1210.4L3339.9 1235.9M3339.9 1235.9L3324.9 1255.4M3339.9 1235.9L3357.9 1231.4M3324.9 1255.4L3315.9 1304.9M3315.9 1304.9L3302.4 1342.4M3302.4 1342.4L3297.3 1364.8M3357.9 1231.4L3360.9 1265.9M3360.9 1265.9L3351.9 1286.9M3339.9 1235.9L3338.4 1289.9M3338.4 1289.9L3329.4 1337.9M3338.4 1289.9L3343.5 1328.9M3329.4 1337.9L3343.5 1328.9M3329.4 1337.9L3320.4 1406.8M3320.4 1406.8L3330.9 1471.3M3330.9 1471.3L3316.5 1499.8M3343.5 1328.9L3337.5 1388.8M3337.5 1388.8L3343.5 1466.8" stroke-width="9.2" fill="none"/>
<path d="M3333.9 1210.4L3339.9 1235.9M3339.9 1235.9L3338.4 1289.9M3338.4 1289.9L3329.4 1337.9M3338.4 1289.9L3343.5 1328.9" stroke-width="15" fill="none"/>
<circle cx="3333.9" cy="1210.4" r="11" stroke="none"/><circle cx="3339.9" cy="1235.9" r="7.8" stroke="none"/><circle cx="3324.9" cy="1255.4" r="7.8" stroke="none"/><circle cx="3357.9" cy="1231.4" r="7.8" stroke="none"/><circle cx="3315.9" cy="1304.9" r="7.8" stroke="none"/><circle cx="3360.9" cy="1265.9" r="7.8" stroke="none"/><circle cx="3302.4" cy="1342.4" r="10.3" stroke="none"/><circle cx="3351.9" cy="1286.9" r="7.8" stroke="none"/><circle cx="3329.4" cy="1337.9" r="7.8" stroke="none"/><circle cx="3343.5" cy="1328.9" r="7.8" stroke="none"/><circle cx="3320.4" cy="1406.8" r="7.8" stroke="none"/><circle cx="3337.5" cy="1388.8" r="7.8" stroke="none"/><circle cx="3330.9" cy="1471.3" r="7.8" stroke="none"/><circle cx="3343.5" cy="1466.8" r="7.8" stroke="none"/><circle cx="3297.3" cy="1364.8" r="10.3" stroke="none"/><circle cx="3316.5" cy="1499.8" r="10.3" stroke="none"/><circle cx="3338.4" cy="1289.9" r="7.8" stroke="none"/>
</g>
<polygon points="2863,1207.4 3150.1,1006 3605,1118 3590,1462 3341.7,1714.2 2879,1560.7" fill="none" stroke="#0a0a0a" stroke-width="4.4" stroke-linejoin="miter"/>
<text transform="translate(3682.5 1118.8) rotate(0)" y="21.1" text-anchor="middle">1.00</text>
<text transform="translate(3671.8 1205) rotate(0)" y="21.1" text-anchor="middle">0.50</text>
<text transform="translate(3629.2 1294) rotate(0)" y="21.1" text-anchor="middle">0</text>
<text transform="translate(3680.5 1379) rotate(0)" y="21.1" text-anchor="middle">−0.50</text>
<text transform="translate(3680.5 1458.8) rotate(0)" y="21.1" text-anchor="middle">−1.00</text>
<text transform="translate(3407.8 1680) rotate(0)" y="21.1" text-anchor="middle">0</text>
<text transform="translate(3516.7 1583.9) rotate(0)" y="21.1" text-anchor="middle">1</text>
<text transform="translate(3603 1493.8) rotate(0)" y="21.1" text-anchor="middle">2</text>
<text transform="translate(2858.5 1622.5) rotate(-45)" y="21.1" text-anchor="middle">−2.5</text>
<text transform="translate(2949.7 1659.1) rotate(-45)" y="21.1" text-anchor="middle">−1.5</text>
<text transform="translate(3062.4 1687.7) rotate(-45)" y="21.1" text-anchor="middle">−0.5</text>
<text transform="translate(3169.3 1710.5) rotate(-45)" y="21.1" text-anchor="middle">0.5</text>
<text transform="translate(3273.2 1748.4) rotate(-45)" y="21.1" text-anchor="middle">1.5</text>
<text transform="translate(3036.7 1781) rotate(16)" y="13.9" text-anchor="middle" font-style="italic">x</text>
<text transform="translate(3565.3 1667.5) rotate(-41)" y="7.6" text-anchor="middle" font-style="italic">y</text>
<text transform="translate(3756 1297) rotate(90)" y="13.9" text-anchor="middle" font-style="italic">z</text>
<text x="3245" y="1892" text-anchor="middle">(h) 案例3, 本文</text>
</g>
<g>
<polygon points="915.9,2177.4 1204.6,1969.3 1208.1,2296.7 932.4,2525.2" fill="#f7f7f6"/>
<polygon points="1204.6,1969.3 1658.4,2086.3 1644.6,2425.8 1208.1,2296.7" fill="#f6f6f5"/>
<polygon points="932.4,2525.2 1208.1,2296.7 1644.6,2425.8 1397.8,2678.7" fill="#f8f8f7"/>
<path d="M984.6 2481.9L970.7 2137.9M984.8 2481.8L1444.8 2630.5M1038.3 2437.4L1027.1 2097.3M1038.6 2437.2L1493.1 2581.1M1090.3 2394.3L1081.5 2058M1090.6 2394.1L1539.6 2533.4M1140.7 2352.6L1134.2 2020.1M1140.8 2352.5L1584.6 2487.3M1189.4 2312.2L1185.1 1983.4M1189.5 2312.1L1628 2442.8M1229 2302.8L1226.2 1974.9M954.6 2532.5L1229.1 2302.9M1275.5 2316.6L1274.6 1987.3M1004.3 2548.9L1275.8 2316.7M1322.6 2330.5L1323.5 1999.9M1054.5 2565.5L1323 2330.7M1370.2 2344.6L1372.9 2012.7M1105.2 2582.2L1370.7 2344.8M1418.3 2358.9L1422.9 2025.6M1156.5 2599.1L1418.8 2359M1467 2373.3L1473.5 2038.6M1208.4 2616.2L1467.4 2373.4M1516.2 2387.8L1524.7 2051.8M1260.9 2633.5L1516.6 2387.9M1565.9 2402.5L1576.5 2065.2M1313.9 2651L1566.2 2402.6M1616.3 2417.4L1628.9 2078.7M1367.6 2668.7L1616.4 2417.4M931.6 2508.2L1208 2280.6M1208 2280.6L1645.3 2409.1M929.8 2471.3L1207.6 2245.8M1207.6 2245.6L1646.7 2372.9M928.1 2434L1207.2 2210.6M1207.2 2210.4L1648.2 2336.4M926.3 2396.3L1206.8 2175.1M1206.8 2174.8L1649.7 2299.6M924.5 2358.3L1206.4 2139.3M1206.4 2139L1651.2 2262.4M922.7 2319.9L1206.1 2103.2M1206 2102.9L1652.8 2225M920.8 2281.1L1205.7 2066.7M1205.7 2066.5L1654.3 2187.2M919 2242L1205.3 2029.9M1205.3 2029.7L1655.8 2149.1M917.1 2202.4L1204.9 1992.8M1204.9 1992.7L1657.4 2110.6" stroke="#cfd6d4" stroke-width="2.2" fill="none"/>
<g stroke="#c23ad6" fill="#c23ad6" stroke-linecap="round" stroke-linejoin="round"><path d="M1330.3 2095L1330.9 2117.5M1330.9 2117.5L1309.9 2121.4M1330.9 2117.5L1353.4 2114.5M1309.9 2121.4L1309.3 2163.3M1309.3 2163.3L1323.4 2171.4M1353.4 2114.5L1367.5 2146.6M1367.5 2146.6L1348.3 2173.5M1330.9 2117.5L1333.9 2199.9M1333.9 2199.9L1324.9 2207.4M1333.9 2199.9L1343.5 2205.9M1324.9 2207.4L1321.3 2259.9M1321.3 2259.9L1321.9 2333.4M1343.5 2205.9L1353.4 2289.9M1353.4 2289.9L1359.4 2347.5" stroke-width="9.2" fill="none"/>
<path d="M1330.3 2095L1330.9 2117.5M1330.9 2117.5L1333.9 2199.9M1309.9 2121.4L1353.4 2114.5" stroke-width="15" fill="none"/>
<circle cx="1330.3" cy="2095" r="11" stroke="none"/><circle cx="1330.9" cy="2117.5" r="7.8" stroke="none"/><circle cx="1309.9" cy="2121.4" r="7.8" stroke="none"/><circle cx="1353.4" cy="2114.5" r="7.8" stroke="none"/><circle cx="1309.3" cy="2163.3" r="7.8" stroke="none"/><circle cx="1367.5" cy="2146.6" r="7.8" stroke="none"/><circle cx="1323.4" cy="2171.4" r="7.8" stroke="none"/><circle cx="1348.3" cy="2173.5" r="7.8" stroke="none"/><circle cx="1324.9" cy="2207.4" r="7.8" stroke="none"/><circle cx="1343.5" cy="2205.9" r="7.8" stroke="none"/><circle cx="1321.3" cy="2259.9" r="7.8" stroke="none"/><circle cx="1353.4" cy="2289.9" r="7.8" stroke="none"/><circle cx="1321.9" cy="2333.4" r="7.8" stroke="none"/><circle cx="1359.4" cy="2347.5" r="7.8" stroke="none"/><circle cx="1333.9" cy="2199.9" r="7.8" stroke="none"/>
</g>
<g stroke="#e8641a" fill="#e8641a" stroke-linecap="round" stroke-linejoin="round"><path d="M1270.9 2181.9L1261.9 2207.4M1261.9 2207.4L1254.4 2228.4M1254.4 2228.4L1258.9 2273.4M1258.9 2273.4L1279.9 2286.9M1279.9 2286.9L1288.9 2298.3M1258.9 2273.4L1263.4 2313.9M1263.4 2313.9L1265.5 2354.3M1265.5 2354.3L1239.4 2403.8M1239.4 2403.8L1251.4 2420.3M1265.5 2354.3L1258.9 2403.8M1258.9 2403.8L1269.4 2439.2" stroke-width="9.2" fill="none"/>
<path d="M1270.9 2181.9L1261.9 2207.4M1261.9 2207.4L1254.4 2228.4M1254.4 2228.4L1258.9 2273.4M1258.9 2273.4L1263.4 2313.9M1279.9 2286.9L1288.9 2298.3" stroke-width="17" fill="none"/>
<circle cx="1270.9" cy="2181.9" r="10.5" stroke="none"/><circle cx="1261.9" cy="2207.4" r="7.8" stroke="none"/><circle cx="1254.4" cy="2228.4" r="7.8" stroke="none"/><circle cx="1258.9" cy="2273.4" r="7.8" stroke="none"/><circle cx="1279.9" cy="2286.9" r="7.8" stroke="none"/><circle cx="1288.9" cy="2298.3" r="7.8" stroke="none"/><circle cx="1263.4" cy="2313.9" r="7.8" stroke="none"/><circle cx="1265.5" cy="2354.3" r="7.8" stroke="none"/><circle cx="1239.4" cy="2403.8" r="7.8" stroke="none"/><circle cx="1251.4" cy="2420.3" r="7.8" stroke="none"/><circle cx="1258.9" cy="2403.8" r="7.8" stroke="none"/><circle cx="1269.4" cy="2439.2" r="7.8" stroke="none"/>
</g>
<g stroke="#1230d0" fill="#1230d0" stroke-linecap="round" stroke-linejoin="round"><path d="M1333.9 2229.9L1346.5 2249.4M1346.5 2249.4L1346.5 2280.9M1346.5 2280.9L1339.9 2321.4M1339.9 2321.4L1332.4 2349.9M1332.4 2349.9L1320.4 2361.8M1332.4 2349.9L1338.4 2367.8M1338.4 2367.8L1327.9 2413.4M1327.9 2413.4L1341.4 2481.8M1341.4 2481.8L1326.4 2499.8M1338.4 2367.8L1346.5 2411.3M1346.5 2411.3L1357 2448.8M1357 2448.8L1350.4 2467.4" stroke-width="10.2" fill="none"/>
<path d="M1333.9 2229.9L1346.5 2249.4M1346.5 2249.4L1346.5 2280.9M1346.5 2280.9L1339.9 2321.4M1339.9 2321.4L1332.4 2349.9M1332.4 2349.9L1338.4 2367.8" stroke-width="19" fill="none"/>
<circle cx="1333.9" cy="2229.9" r="11" stroke="none"/><circle cx="1346.5" cy="2249.4" r="8.3" stroke="none"/><circle cx="1346.5" cy="2280.9" r="8.3" stroke="none"/><circle cx="1339.9" cy="2321.4" r="8.3" stroke="none"/><circle cx="1332.4" cy="2349.9" r="8.3" stroke="none"/><circle cx="1320.4" cy="2361.8" r="8.3" stroke="none"/><circle cx="1338.4" cy="2367.8" r="8.3" stroke="none"/><circle cx="1327.9" cy="2413.4" r="8.3" stroke="none"/><circle cx="1341.4" cy="2481.8" r="8.3" stroke="none"/><circle cx="1326.4" cy="2499.8" r="8.3" stroke="none"/><circle cx="1346.5" cy="2411.3" r="8.3" stroke="none"/><circle cx="1357" cy="2448.8" r="8.3" stroke="none"/><circle cx="1350.4" cy="2467.4" r="8.3" stroke="none"/>
</g>
<polygon points="915.9,2177.4 1204.6,1969.3 1658.4,2086.3 1644.6,2425.8 1397.8,2678.7 932.4,2525.2" fill="none" stroke="#0a0a0a" stroke-width="4.4" stroke-linejoin="miter"/>
<text transform="translate(1742 2089.3) rotate(0)" y="21.1" text-anchor="middle">1.00</text>
<text transform="translate(1731.3 2175.5) rotate(0)" y="21.1" text-anchor="middle">0.50</text>
<text transform="translate(1688.7 2264.5) rotate(0)" y="21.1" text-anchor="middle">0</text>
<text transform="translate(1740 2349.5) rotate(0)" y="21.1" text-anchor="middle">−0.50</text>
<text transform="translate(1740 2429.3) rotate(0)" y="21.1" text-anchor="middle">−1.00</text>
<text transform="translate(1466 2653) rotate(0)" y="21.1" text-anchor="middle">0</text>
<text transform="translate(1574.9 2556.9) rotate(0)" y="21.1" text-anchor="middle">1</text>
<text transform="translate(1662.5 2464.3) rotate(0)" y="21.1" text-anchor="middle">2</text>
<text transform="translate(921.3 2590.9) rotate(-45)" y="21.1" text-anchor="middle">−2.5</text>
<text transform="translate(1012.5 2634.1) rotate(-45)" y="21.1" text-anchor="middle">−1.5</text>
<text transform="translate(1118.6 2662.7) rotate(-45)" y="21.1" text-anchor="middle">−0.5</text>
<text transform="translate(1225.5 2685.5) rotate(-45)" y="21.1" text-anchor="middle">0.5</text>
<text transform="translate(1329.4 2723.4) rotate(-45)" y="21.1" text-anchor="middle">1.5</text>
<text transform="translate(1092.9 2756) rotate(16)" y="13.9" text-anchor="middle" font-style="italic">x</text>
<text transform="translate(1621.5 2642.5) rotate(-41)" y="7.6" text-anchor="middle" font-style="italic">y</text>
<text transform="translate(1858 2266) rotate(90)" y="13.9" text-anchor="middle" font-style="italic">z</text>
<text x="1288.5" y="2828" text-anchor="middle">(i) 案例1, 本文</text>
</g>
<g>
<polygon points="1983,2174.7 2268.5,1970.4 2272,2297.7 1998,2525.2" fill="#f7f7f6"/>
<polygon points="2268.5,1970.4 2725,2086.3 2710,2425.8 2272,2297.7" fill="#f6f6f5"/>
<polygon points="1998,2525.2 2272,2297.7 2710,2425.8 2461.7,2679.8" fill="#f8f8f7"/>
<path d="M2050.1 2481.9L2037.4 2135.7M2050 2482.1L2509 2631.4M2103.6 2437.5L2093.2 2095.8M2103.4 2437.7L2557.5 2581.8M2155.3 2394.6L2147.1 2057.3M2155 2394.8L2604.3 2533.9M2205.2 2353.2L2199.1 2020.1M2205 2353.3L2649.5 2487.6M2253.5 2313.1L2249.3 1984.2M2253.5 2313.1L2693.3 2442.9M2292.9 2303.8L2290.2 1975.9M2019.9 2532.5L2292.8 2303.8M2339.6 2317.5L2338.8 1988.3M2069 2548.9L2339.4 2317.4M2386.8 2331.3L2388 2000.7M2118.7 2565.4L2386.5 2331.2M2434.6 2345.2L2437.7 2013.4M2169.1 2582.2L2434.2 2345.1M2482.9 2359.4L2488 2026.1M2220.1 2599.3L2482.4 2359.2M2531.7 2373.6L2538.9 2039.1M2271.9 2616.5L2531.2 2373.5M2581.1 2388.1L2590.4 2052.1M2324.3 2634L2580.7 2388M2631 2402.7L2642.5 2065.4M2377.4 2651.7L2630.7 2402.6M2681.5 2417.5L2695.3 2078.8M2431.3 2669.7L2681.4 2417.4M1997.3 2508L2271.9 2281.6M2271.9 2281.6L2710.7 2409.2M1995.7 2470.6L2271.5 2246.6M2271.5 2246.7L2712.3 2373M1994.1 2432.9L2271.1 2211.3M2271.1 2211.5L2713.9 2336.6M1992.4 2394.9L2270.7 2175.8M2270.7 2176.1L2715.6 2299.8M1990.8 2356.6L2270.3 2140M2270.3 2140.2L2717.2 2262.7M1989.1 2317.9L2269.9 2103.8M2269.9 2104.1L2718.9 2225.2M1987.5 2278.9L2269.5 2067.4M2269.5 2067.7L2720.5 2187.4M1985.8 2239.5L2269.2 2030.8M2269.2 2030.9L2722.2 2149.2M1984.1 2199.8L2268.8 1993.8M2268.8 1993.8L2723.9 2110.7" stroke="#cfd6d4" stroke-width="2.2" fill="none"/>
<g stroke="#c23ad6" fill="#c23ad6" stroke-linecap="round" stroke-linejoin="round"><path d="M2450.4 2146L2451.9 2169.4M2451.9 2169.4L2439.9 2176M2451.9 2169.4L2465.4 2171.5M2439.9 2176L2427.3 2203.6M2427.3 2203.6L2409.9 2222.4M2465.4 2171.5L2467.5 2214.9M2467.5 2214.9L2462.4 2237.4M2451.9 2169.4L2453.4 2258.4M2453.4 2258.4L2448.3 2319.9M2448.3 2319.9L2451.9 2373.9M2451.9 2373.9L2439 2424.8M2448.3 2319.9L2458.5 2361.9M2458.5 2361.9L2454.9 2399.4" stroke-width="10.2" fill="none"/>
<path d="M2450.4 2146L2451.9 2169.4M2451.9 2169.4L2453.4 2258.4M2453.4 2258.4L2448.3 2319.9M2439.9 2176L2465.4 2171.5" stroke-width="17" fill="none"/>
<circle cx="2450.4" cy="2146" r="11.5" stroke="none"/><circle cx="2451.9" cy="2169.4" r="8.3" stroke="none"/><circle cx="2439.9" cy="2176" r="8.3" stroke="none"/><circle cx="2465.4" cy="2171.5" r="8.3" stroke="none"/><circle cx="2427.3" cy="2203.6" r="8.3" stroke="none"/><circle cx="2467.5" cy="2214.9" r="8.3" stroke="none"/><circle cx="2409.9" cy="2222.4" r="10.8" stroke="none"/><circle cx="2462.4" cy="2237.4" r="8.3" stroke="none"/><circle cx="2453.4" cy="2258.4" r="8.3" stroke="none"/><circle cx="2448.3" cy="2319.9" r="8.3" stroke="none"/><circle cx="2451.9" cy="2373.9" r="8.3" stroke="none"/><circle cx="2439" cy="2424.8" r="8.3" stroke="none"/><circle cx="2458.5" cy="2361.9" r="8.3" stroke="none"/><circle cx="2454.9" cy="2399.4" r="8.3" stroke="none"/>
</g>
<g stroke="#e8641a" fill="#e8641a" stroke-linecap="round" stroke-linejoin="round"><path d="M2343.9 2170L2345.4 2191.6M2345.4 2191.6L2321.4 2197.6M2345.4 2191.6L2364.9 2189.5M2321.4 2197.6L2318.4 2247.9M2318.4 2247.9L2321.4 2278.5M2364.9 2189.5L2374.5 2224.5M2374.5 2224.5L2377.5 2265.9M2345.4 2191.6L2346.3 2274.9M2346.3 2274.9L2337.3 2281.5M2346.3 2274.9L2356.5 2278.5M2337.3 2281.5L2328.9 2343.9M2328.9 2343.9L2322.9 2413.4M2356.5 2278.5L2360.7 2337.9M2360.7 2337.9L2361.9 2407.5M2334.3 2209L2334.3 2271.9" stroke-width="9.2" fill="none"/>
<path d="M2343.9 2170L2345.4 2191.6M2345.4 2191.6L2346.3 2274.9M2321.4 2197.6L2364.9 2189.5" stroke-width="13" fill="none"/>
<circle cx="2343.9" cy="2170" r="11" stroke="none"/><circle cx="2345.4" cy="2191.6" r="7.8" stroke="none"/><circle cx="2321.4" cy="2197.6" r="7.8" stroke="none"/><circle cx="2364.9" cy="2189.5" r="7.8" stroke="none"/><circle cx="2318.4" cy="2247.9" r="7.8" stroke="none"/><circle cx="2374.5" cy="2224.5" r="7.8" stroke="none"/><circle cx="2321.4" cy="2278.5" r="7.8" stroke="none"/><circle cx="2377.5" cy="2265.9" r="7.8" stroke="none"/><circle cx="2337.3" cy="2281.5" r="7.8" stroke="none"/><circle cx="2356.5" cy="2278.5" r="7.8" stroke="none"/><circle cx="2328.9" cy="2343.9" r="7.8" stroke="none"/><circle cx="2360.7" cy="2337.9" r="7.8" stroke="none"/><circle cx="2322.9" cy="2413.4" r="7.8" stroke="none"/><circle cx="2361.9" cy="2407.5" r="7.8" stroke="none"/><circle cx="2346.3" cy="2274.9" r="7.8" stroke="none"/><circle cx="2334.3" cy="2209" r="7.8" stroke="none"/><circle cx="2334.3" cy="2271.9" r="7.8" stroke="none"/>
</g>
<g stroke="#66e02a" fill="#66e02a" stroke-linecap="round" stroke-linejoin="round"><path d="M2230 2281.5L2216.5 2304.9M2216.5 2304.9L2209 2349.9M2209 2349.9L2211.4 2394.9M2211.4 2394.9L2206 2433.8M2206 2433.8L2216.5 2448.8M2216.5 2304.9L2225.5 2325.9M2225.5 2325.9L2231.5 2360.4M2231.5 2360.4L2243.5 2383.5M2209 2349.9L2222.5 2397.9M2222.5 2397.9L2234.5 2439.8M2234.5 2439.8L2243.5 2479.4M2243.5 2479.4L2257.6 2490.2M2211.4 2394.9L2222.5 2397.9" stroke-width="10.2" fill="none"/>
<path d="M2230 2281.5L2216.5 2304.9M2216.5 2304.9L2209 2349.9M2209 2349.9L2211.4 2394.9M2216.5 2304.9L2225.5 2325.9" stroke-width="18" fill="none"/>
<circle cx="2230" cy="2281.5" r="11" stroke="none"/><circle cx="2216.5" cy="2304.9" r="8.3" stroke="none"/><circle cx="2209" cy="2349.9" r="8.3" stroke="none"/><circle cx="2211.4" cy="2394.9" r="8.3" stroke="none"/><circle cx="2206" cy="2433.8" r="8.3" stroke="none"/><circle cx="2216.5" cy="2448.8" r="8.3" stroke="none"/><circle cx="2225.5" cy="2325.9" r="8.3" stroke="none"/><circle cx="2231.5" cy="2360.4" r="8.3" stroke="none"/><circle cx="2243.5" cy="2383.5" r="8.3" stroke="none"/><circle cx="2222.5" cy="2397.9" r="8.3" stroke="none"/><circle cx="2234.5" cy="2439.8" r="8.3" stroke="none"/><circle cx="2243.5" cy="2479.4" r="8.3" stroke="none"/><circle cx="2257.6" cy="2490.2" r="8.3" stroke="none"/>
</g>
<g stroke="#1230d0" fill="#1230d0" stroke-linecap="round" stroke-linejoin="round"><path d="M2406.9 2298.9L2412.9 2324.4M2412.9 2324.4L2391.9 2337.9M2412.9 2324.4L2433.9 2319.9M2391.9 2337.9L2389.8 2383.5M2389.8 2383.5L2384.4 2427.8M2433.9 2319.9L2441.4 2351.4M2441.4 2351.4L2431.5 2397.9M2412.9 2324.4L2414.4 2406.9M2414.4 2406.9L2400.9 2417.3M2414.4 2406.9L2421.9 2410.4M2400.9 2417.3L2393.4 2466.8M2393.4 2466.8L2394.3 2531.3M2421.9 2410.4L2415.9 2465.3M2415.9 2465.3L2417.7 2537.3M2394.3 2531.3L2390.4 2544.2M2417.7 2537.3L2419.5 2548.4M2391.9 2337.9L2400.9 2417.3M2433.9 2319.9L2421.9 2410.4" stroke-width="9.2" fill="none"/>
<path d="M2406.9 2298.9L2412.9 2324.4M2412.9 2324.4L2414.4 2406.9M2391.9 2337.9L2433.9 2319.9" stroke-width="13" fill="none"/>
<circle cx="2406.9" cy="2298.9" r="11.5" stroke="none"/><circle cx="2412.9" cy="2324.4" r="7.8" stroke="none"/><circle cx="2391.9" cy="2337.9" r="7.8" stroke="none"/><circle cx="2433.9" cy="2319.9" r="7.8" stroke="none"/><circle cx="2389.8" cy="2383.5" r="7.8" stroke="none"/><circle cx="2441.4" cy="2351.4" r="7.8" stroke="none"/><circle cx="2384.4" cy="2427.8" r="10.3" stroke="none"/><circle cx="2431.5" cy="2397.9" r="7.8" stroke="none"/><circle cx="2400.9" cy="2417.3" r="7.8" stroke="none"/><circle cx="2421.9" cy="2410.4" r="7.8" stroke="none"/><circle cx="2393.4" cy="2466.8" r="7.8" stroke="none"/><circle cx="2415.9" cy="2465.3" r="7.8" stroke="none"/><circle cx="2394.3" cy="2531.3" r="7.8" stroke="none"/><circle cx="2417.7" cy="2537.3" r="7.8" stroke="none"/><circle cx="2414.4" cy="2406.9" r="7.8" stroke="none"/><circle cx="2390.4" cy="2544.2" r="7.8" stroke="none"/><circle cx="2419.5" cy="2548.4" r="7.8" stroke="none"/>
</g>
<polygon points="1983,2174.7 2268.5,1970.4 2725,2086.3 2710,2425.8 2461.7,2679.8 1998,2525.2" fill="none" stroke="#0a0a0a" stroke-width="4.4" stroke-linejoin="miter"/>
<text transform="translate(2808 2089.3) rotate(0)" y="21.1" text-anchor="middle">1.00</text>
<text transform="translate(2797.3 2175.5) rotate(0)" y="21.1" text-anchor="middle">0.50</text>
<text transform="translate(2754.7 2264.5) rotate(0)" y="21.1" text-anchor="middle">0</text>
<text transform="translate(2806 2349.5) rotate(0)" y="21.1" text-anchor="middle">−0.50</text>
<text transform="translate(2806 2429.3) rotate(0)" y="21.1" text-anchor="middle">−1.00</text>
<text transform="translate(2532 2653) rotate(0)" y="21.1" text-anchor="middle">0</text>
<text transform="translate(2640.9 2556.9) rotate(0)" y="21.1" text-anchor="middle">1</text>
<text transform="translate(2728.5 2464.3) rotate(0)" y="21.1" text-anchor="middle">2</text>
<text transform="translate(1980.7 2597.5) rotate(-45)" y="21.1" text-anchor="middle">−2.5</text>
<text transform="translate(2071.9 2634.1) rotate(-45)" y="21.1" text-anchor="middle">−1.5</text>
<text transform="translate(2184.6 2662.7) rotate(-45)" y="21.1" text-anchor="middle">−0.5</text>
<text transform="translate(2291.5 2685.5) rotate(-45)" y="21.1" text-anchor="middle">0.5</text>
<text transform="translate(2395.4 2723.4) rotate(-45)" y="21.1" text-anchor="middle">1.5</text>
<text transform="translate(2158.9 2756) rotate(16)" y="13.9" text-anchor="middle" font-style="italic">x</text>
<text transform="translate(2687.5 2642.5) rotate(-41)" y="7.6" text-anchor="middle" font-style="italic">y</text>
<text transform="translate(2916 2265) rotate(90)" y="13.9" text-anchor="middle" font-style="italic">z</text>
<text x="2354" y="2828" text-anchor="middle">(j) 案例2, 本文</text>
</g>
</svg></body></html>
